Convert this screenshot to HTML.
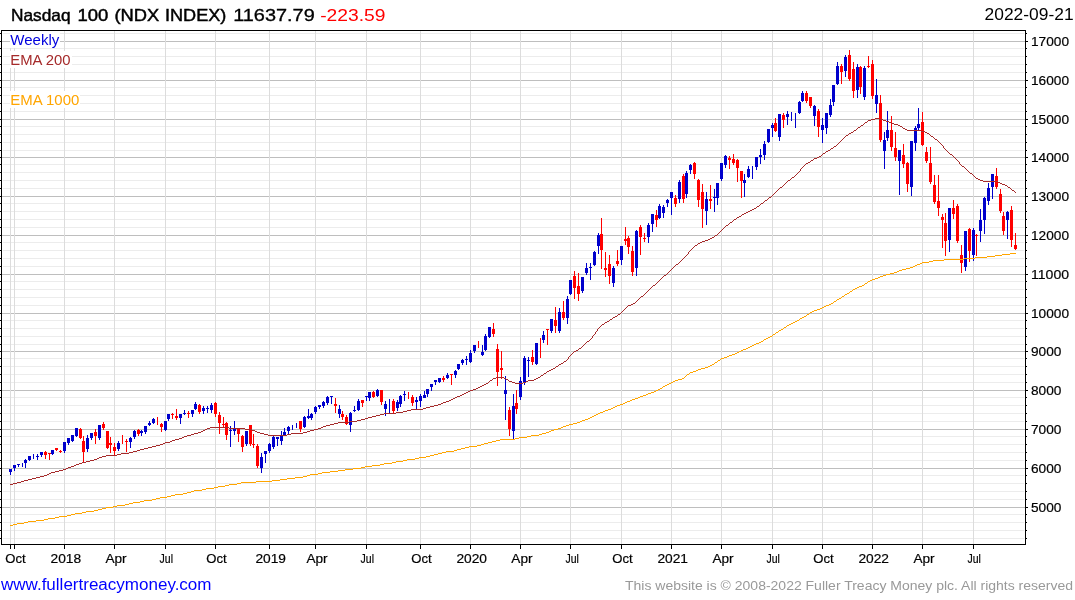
<!DOCTYPE html>
<html><head><meta charset="utf-8"><title>Nasdaq 100 (NDX INDEX)</title>
<style>
html,body{margin:0;padding:0;background:#fff;}
body{width:1075px;height:600px;overflow:hidden;}
svg{display:block;will-change:transform;}
text{font-family:"Liberation Sans",sans-serif;}
.t{opacity:0.999;}
</style></head><body>
<svg width="1075" height="600" viewBox="0 0 1075 600">
<rect x="0" y="0" width="1075" height="600" fill="#ffffff"/>
<g shape-rendering="crispEdges">
<rect x="3" y="514" width="1021" height="1" fill="#ececec"/>
<rect x="3" y="522" width="1021" height="1" fill="#ececec"/>
<rect x="3" y="530" width="1021" height="1" fill="#ececec"/>
<rect x="3" y="538" width="1021" height="1" fill="#ececec"/>
<rect x="3" y="475" width="1021" height="1" fill="#ececec"/>
<rect x="3" y="483" width="1021" height="1" fill="#ececec"/>
<rect x="3" y="491" width="1021" height="1" fill="#ececec"/>
<rect x="3" y="499" width="1021" height="1" fill="#ececec"/>
<rect x="3" y="436" width="1021" height="1" fill="#ececec"/>
<rect x="3" y="444" width="1021" height="1" fill="#ececec"/>
<rect x="3" y="452" width="1021" height="1" fill="#ececec"/>
<rect x="3" y="460" width="1021" height="1" fill="#ececec"/>
<rect x="3" y="397" width="1021" height="1" fill="#ececec"/>
<rect x="3" y="405" width="1021" height="1" fill="#ececec"/>
<rect x="3" y="413" width="1021" height="1" fill="#ececec"/>
<rect x="3" y="421" width="1021" height="1" fill="#ececec"/>
<rect x="3" y="358" width="1021" height="1" fill="#ececec"/>
<rect x="3" y="366" width="1021" height="1" fill="#ececec"/>
<rect x="3" y="374" width="1021" height="1" fill="#ececec"/>
<rect x="3" y="382" width="1021" height="1" fill="#ececec"/>
<rect x="3" y="320" width="1021" height="1" fill="#ececec"/>
<rect x="3" y="328" width="1021" height="1" fill="#ececec"/>
<rect x="3" y="336" width="1021" height="1" fill="#ececec"/>
<rect x="3" y="344" width="1021" height="1" fill="#ececec"/>
<rect x="3" y="281" width="1021" height="1" fill="#ececec"/>
<rect x="3" y="289" width="1021" height="1" fill="#ececec"/>
<rect x="3" y="297" width="1021" height="1" fill="#ececec"/>
<rect x="3" y="305" width="1021" height="1" fill="#ececec"/>
<rect x="3" y="242" width="1021" height="1" fill="#ececec"/>
<rect x="3" y="250" width="1021" height="1" fill="#ececec"/>
<rect x="3" y="258" width="1021" height="1" fill="#ececec"/>
<rect x="3" y="266" width="1021" height="1" fill="#ececec"/>
<rect x="3" y="203" width="1021" height="1" fill="#ececec"/>
<rect x="3" y="211" width="1021" height="1" fill="#ececec"/>
<rect x="3" y="219" width="1021" height="1" fill="#ececec"/>
<rect x="3" y="227" width="1021" height="1" fill="#ececec"/>
<rect x="3" y="164" width="1021" height="1" fill="#ececec"/>
<rect x="3" y="172" width="1021" height="1" fill="#ececec"/>
<rect x="3" y="180" width="1021" height="1" fill="#ececec"/>
<rect x="3" y="188" width="1021" height="1" fill="#ececec"/>
<rect x="3" y="126" width="1021" height="1" fill="#ececec"/>
<rect x="3" y="134" width="1021" height="1" fill="#ececec"/>
<rect x="3" y="142" width="1021" height="1" fill="#ececec"/>
<rect x="3" y="150" width="1021" height="1" fill="#ececec"/>
<rect x="3" y="87" width="1021" height="1" fill="#ececec"/>
<rect x="3" y="95" width="1021" height="1" fill="#ececec"/>
<rect x="3" y="103" width="1021" height="1" fill="#ececec"/>
<rect x="3" y="111" width="1021" height="1" fill="#ececec"/>
<rect x="3" y="48" width="1021" height="1" fill="#ececec"/>
<rect x="3" y="56" width="1021" height="1" fill="#ececec"/>
<rect x="3" y="64" width="1021" height="1" fill="#ececec"/>
<rect x="3" y="72" width="1021" height="1" fill="#ececec"/>
<rect x="3" y="33" width="1021" height="1" fill="#ececec"/>
<rect x="2" y="507" width="1023" height="1" fill="#bebebe"/>
<rect x="2" y="468" width="1023" height="1" fill="#bebebe"/>
<rect x="2" y="429" width="1023" height="1" fill="#bebebe"/>
<rect x="2" y="390" width="1023" height="1" fill="#bebebe"/>
<rect x="2" y="351" width="1023" height="1" fill="#bebebe"/>
<rect x="2" y="313" width="1023" height="1" fill="#bebebe"/>
<rect x="2" y="274" width="1023" height="1" fill="#bebebe"/>
<rect x="2" y="235" width="1023" height="1" fill="#bebebe"/>
<rect x="2" y="196" width="1023" height="1" fill="#bebebe"/>
<rect x="2" y="157" width="1023" height="1" fill="#bebebe"/>
<rect x="2" y="119" width="1023" height="1" fill="#bebebe"/>
<rect x="2" y="80" width="1023" height="1" fill="#bebebe"/>
<rect x="2" y="41" width="1023" height="1" fill="#bebebe"/>
<rect x="10" y="31" width="1" height="513" fill="#dcdcdc"/>
<rect x="14" y="31" width="1" height="513" fill="#dcdcdc"/>
<rect x="64" y="31" width="1" height="513" fill="#dcdcdc"/>
<rect x="114" y="31" width="1" height="513" fill="#dcdcdc"/>
<rect x="165" y="31" width="1" height="513" fill="#dcdcdc"/>
<rect x="215" y="31" width="1" height="513" fill="#dcdcdc"/>
<rect x="269" y="31" width="1" height="513" fill="#dcdcdc"/>
<rect x="315" y="31" width="1" height="513" fill="#dcdcdc"/>
<rect x="366" y="31" width="1" height="513" fill="#dcdcdc"/>
<rect x="420" y="31" width="1" height="513" fill="#dcdcdc"/>
<rect x="470" y="31" width="1" height="513" fill="#dcdcdc"/>
<rect x="520" y="31" width="1" height="513" fill="#dcdcdc"/>
<rect x="570" y="31" width="1" height="513" fill="#dcdcdc"/>
<rect x="621" y="31" width="1" height="513" fill="#dcdcdc"/>
<rect x="671" y="31" width="1" height="513" fill="#dcdcdc"/>
<rect x="721" y="31" width="1" height="513" fill="#dcdcdc"/>
<rect x="772" y="31" width="1" height="513" fill="#dcdcdc"/>
<rect x="822" y="31" width="1" height="513" fill="#dcdcdc"/>
<rect x="872" y="31" width="1" height="513" fill="#dcdcdc"/>
<rect x="922" y="31" width="1" height="513" fill="#dcdcdc"/>
<rect x="973" y="31" width="1" height="513" fill="#dcdcdc"/>
</g>
<g shape-rendering="crispEdges" fill="#ffffff">
<rect x="10" y="31" width="50" height="17"/>
<rect x="10" y="51" width="62" height="17"/>
<rect x="10" y="91" width="70" height="17"/>
</g>
<g shape-rendering="crispEdges">
<g fill="#0000cc"><rect x="10" y="469" width="1" height="6"/><rect x="9" y="469" width="3" height="3"/></g>
<g fill="#0000cc"><rect x="14" y="465" width="1" height="6"/><rect x="13" y="465" width="3" height="3"/></g>
<g fill="#0000cc"><rect x="18" y="464" width="1" height="3"/><rect x="17" y="464" width="3" height="1"/></g>
<g fill="#0000cc"><rect x="22" y="463" width="1" height="4"/></g>
<g fill="#0000cc"><rect x="25" y="459" width="1" height="9"/><rect x="24" y="459.5" width="3" height="3.5"/></g>
<g fill="#0000cc"><rect x="29" y="456" width="1" height="5"/><rect x="28" y="456" width="3" height="4"/></g>
<g fill="#0000cc"><rect x="33" y="454" width="1" height="5"/></g>
<g fill="#0000cc"><rect x="37" y="454" width="1" height="6"/><rect x="36" y="456" width="3" height="1"/></g>
<g fill="#0000cc"><rect x="41" y="452" width="1" height="5"/><rect x="40" y="452" width="3" height="3"/></g>
<g fill="#ff0000"><rect x="45" y="451" width="1" height="8"/><rect x="44" y="452" width="3" height="3"/></g>
<g fill="#ff0000"><rect x="49" y="453" width="1" height="7"/><rect x="48" y="453" width="3" height="1"/></g>
<g fill="#0000cc"><rect x="52" y="450" width="1" height="5"/><rect x="51" y="450" width="3" height="4"/></g>
<g fill="#ff0000"><rect x="56" y="448" width="1" height="3"/><rect x="55" y="448" width="3" height="2"/></g>
<g fill="#ff0000"><rect x="60" y="450" width="1" height="3"/><rect x="59" y="451" width="3" height="1"/></g>
<g fill="#0000cc"><rect x="64" y="442" width="1" height="11"/><rect x="63" y="442" width="3" height="9"/></g>
<g fill="#0000cc"><rect x="68" y="438" width="1" height="7"/><rect x="67" y="438" width="3" height="5"/></g>
<g fill="#0000cc"><rect x="72" y="435" width="1" height="7"/><rect x="71" y="435" width="3" height="6"/></g>
<g fill="#0000cc"><rect x="76" y="428" width="1" height="9"/><rect x="75" y="428" width="3" height="8"/></g>
<g fill="#ff0000"><rect x="80" y="428" width="1" height="11"/><rect x="79" y="429" width="3" height="8.5"/></g>
<g fill="#ff0000"><rect x="83" y="436" width="1" height="26.5"/><rect x="82" y="441" width="3" height="10.5"/></g>
<g fill="#0000cc"><rect x="87" y="435" width="1" height="17"/><rect x="86" y="438" width="3" height="11"/></g>
<g fill="#0000cc"><rect x="91" y="433" width="1" height="7"/><rect x="90" y="433" width="3" height="4.5"/></g>
<g fill="#ff0000"><rect x="95" y="429" width="1" height="15"/><rect x="94" y="432" width="3" height="3.5"/></g>
<g fill="#0000cc"><rect x="99" y="425" width="1" height="15"/><rect x="98" y="425" width="3" height="12.5"/></g>
<g fill="#ff0000"><rect x="103" y="422" width="1" height="8"/><rect x="102" y="424" width="3" height="4"/></g>
<g fill="#ff0000"><rect x="107" y="431" width="1" height="18"/><rect x="106" y="431" width="3" height="17"/></g>
<g fill="#ff0000"><rect x="110" y="437" width="1" height="16"/><rect x="109" y="443" width="3" height="2"/></g>
<g fill="#ff0000"><rect x="114" y="443" width="1" height="13"/><rect x="113" y="447" width="3" height="4"/></g>
<g fill="#0000cc"><rect x="118" y="441" width="1" height="10"/><rect x="117" y="443" width="3" height="6"/></g>
<g fill="#ff0000"><rect x="122" y="435" width="1" height="9"/></g>
<g fill="#ff0000"><rect x="126" y="439" width="1" height="13"/><rect x="125" y="441" width="3" height="1"/></g>
<g fill="#0000cc"><rect x="130" y="437" width="1" height="11"/><rect x="129" y="438" width="3" height="4"/></g>
<g fill="#0000cc"><rect x="134" y="430" width="1" height="9"/><rect x="133" y="431" width="3" height="6"/></g>
<g fill="#ff0000"><rect x="138" y="429" width="1" height="7"/><rect x="137" y="430" width="3" height="4"/></g>
<g fill="#0000cc"><rect x="141" y="430" width="1" height="6"/><rect x="140" y="431" width="3" height="2"/></g>
<g fill="#0000cc"><rect x="145" y="426" width="1" height="8"/><rect x="144" y="426" width="3" height="6"/></g>
<g fill="#0000cc"><rect x="149" y="421" width="1" height="5"/><rect x="148" y="423" width="3" height="2"/></g>
<g fill="#0000cc"><rect x="153" y="418" width="1" height="6"/><rect x="152" y="419" width="3" height="4"/></g>
<g fill="#ff0000"><rect x="157" y="417" width="1" height="8"/></g>
<g fill="#ff0000"><rect x="161" y="423" width="1" height="9"/><rect x="160" y="424" width="3" height="3"/></g>
<g fill="#0000cc"><rect x="165" y="421" width="1" height="10"/><rect x="164" y="421" width="3" height="9"/></g>
<g fill="#0000cc"><rect x="168" y="414" width="1" height="7"/><rect x="167" y="414" width="3" height="5"/></g>
<g fill="#ff0000"><rect x="172" y="413" width="1" height="6"/><rect x="171" y="414" width="3" height="1"/></g>
<g fill="#ff0000"><rect x="176" y="409" width="1" height="11"/><rect x="175" y="416" width="3" height="2"/></g>
<g fill="#0000cc"><rect x="180" y="414" width="1" height="10"/><rect x="179" y="414" width="3" height="4"/></g>
<g fill="#0000cc"><rect x="184" y="410" width="1" height="5"/><rect x="183" y="413" width="3" height="1"/></g>
<g fill="#ff0000"><rect x="188" y="411" width="1" height="7"/><rect x="187" y="413" width="3" height="1"/></g>
<g fill="#0000cc"><rect x="192" y="410" width="1" height="7"/><rect x="191" y="410" width="3" height="4"/></g>
<g fill="#0000cc"><rect x="195" y="402" width="1" height="8"/><rect x="194" y="404" width="3" height="5"/></g>
<g fill="#ff0000"><rect x="199" y="404" width="1" height="10"/><rect x="198" y="405" width="3" height="7"/></g>
<g fill="#0000cc"><rect x="203" y="406" width="1" height="8"/><rect x="202" y="408" width="3" height="3"/></g>
<g fill="#0000cc"><rect x="207" y="406" width="1" height="7"/><rect x="206" y="408" width="3" height="1"/></g>
<g fill="#0000cc"><rect x="211" y="403" width="1" height="10"/><rect x="210" y="405" width="3" height="5"/></g>
<g fill="#ff0000"><rect x="215" y="402" width="1" height="15"/><rect x="214" y="403" width="3" height="11"/></g>
<g fill="#ff0000"><rect x="219" y="412" width="1" height="22"/><rect x="218" y="415" width="3" height="8"/></g>
<g fill="#ff0000"><rect x="223" y="417" width="1" height="10"/><rect x="222" y="424" width="3" height="1"/></g>
<g fill="#ff0000"><rect x="226" y="422" width="1" height="18"/><rect x="225" y="423" width="3" height="12"/></g>
<g fill="#0000cc"><rect x="230" y="426" width="1" height="21"/><rect x="229" y="429.5" width="3" height="1"/></g>
<g fill="#0000cc"><rect x="234" y="421" width="1" height="14"/><rect x="233" y="429" width="3" height="2"/></g>
<g fill="#ff0000"><rect x="238" y="429" width="1" height="13"/><rect x="237" y="429" width="3" height="5"/></g>
<g fill="#ff0000"><rect x="242" y="435" width="1" height="17"/><rect x="241" y="436" width="3" height="11"/></g>
<g fill="#0000cc"><rect x="246" y="431" width="1" height="15"/><rect x="245" y="431" width="3" height="13"/></g>
<g fill="#ff0000"><rect x="250" y="425" width="1" height="21"/><rect x="249" y="425" width="3" height="19"/></g>
<g fill="#ff0000"><rect x="253" y="434" width="1" height="14"/><rect x="252" y="444" width="3" height="1"/></g>
<g fill="#ff0000"><rect x="257" y="444" width="1" height="24"/><rect x="256" y="446" width="3" height="20"/></g>
<g fill="#0000cc"><rect x="261" y="453" width="1" height="20"/><rect x="260" y="457" width="3" height="11"/></g>
<g fill="#0000cc"><rect x="265" y="451" width="1" height="12"/><rect x="264" y="451" width="3" height="3"/></g>
<g fill="#0000cc"><rect x="269" y="443" width="1" height="10"/><rect x="268" y="444" width="3" height="7"/></g>
<g fill="#0000cc"><rect x="273" y="436" width="1" height="13"/><rect x="272" y="437" width="3" height="10"/></g>
<g fill="#0000cc"><rect x="277" y="437" width="1" height="9"/><rect x="276" y="437" width="3" height="2"/></g>
<g fill="#0000cc"><rect x="281" y="431" width="1" height="14"/><rect x="280" y="435" width="3" height="6"/></g>
<g fill="#0000cc"><rect x="284" y="428" width="1" height="7"/><rect x="283" y="432" width="3" height="2.5"/></g>
<g fill="#0000cc"><rect x="288" y="426" width="1" height="8"/><rect x="287" y="427" width="3" height="4"/></g>
<g fill="#0000cc"><rect x="292" y="425" width="1" height="5"/></g>
<g fill="#0000cc"><rect x="296" y="423" width="1" height="5"/></g>
<g fill="#ff0000"><rect x="300" y="421" width="1" height="11"/><rect x="299" y="421" width="3" height="8"/></g>
<g fill="#0000cc"><rect x="304" y="416" width="1" height="12"/><rect x="303" y="417" width="3" height="10"/></g>
<g fill="#0000cc"><rect x="308" y="409" width="1" height="10"/><rect x="307" y="416" width="3" height="1.5"/></g>
<g fill="#0000cc"><rect x="311" y="413" width="1" height="7"/><rect x="310" y="414" width="3" height="3.5"/></g>
<g fill="#0000cc"><rect x="315" y="406" width="1" height="8"/><rect x="314" y="407" width="3" height="5"/></g>
<g fill="#0000cc"><rect x="319" y="405" width="1" height="4"/><rect x="318" y="405" width="3" height="2"/></g>
<g fill="#0000cc"><rect x="323" y="401" width="1" height="7"/><rect x="322" y="402" width="3" height="3.5"/></g>
<g fill="#0000cc"><rect x="327" y="396" width="1" height="9"/><rect x="326" y="397" width="3" height="6"/></g>
<g fill="#0000cc"><rect x="331" y="396" width="1" height="8"/><rect x="330" y="396" width="3" height="1"/></g>
<g fill="#ff0000"><rect x="335" y="398" width="1" height="15"/><rect x="334" y="403.5" width="3" height="2.5"/></g>
<g fill="#0000cc"><rect x="339" y="405" width="1" height="13"/><rect x="338" y="409" width="3" height="5"/></g>
<g fill="#ff0000"><rect x="342" y="411" width="1" height="9"/><rect x="341" y="414" width="3" height="3"/></g>
<g fill="#ff0000"><rect x="346" y="415" width="1" height="10"/><rect x="345" y="417" width="3" height="7"/></g>
<g fill="#0000cc"><rect x="350" y="412" width="1" height="20"/><rect x="349" y="413" width="3" height="12"/></g>
<g fill="#0000cc"><rect x="354" y="406" width="1" height="6"/><rect x="353" y="410" width="3" height="1"/></g>
<g fill="#0000cc"><rect x="358" y="399" width="1" height="12"/><rect x="357" y="401" width="3" height="9"/></g>
<g fill="#ff0000"><rect x="362" y="400" width="1" height="7"/><rect x="361" y="400" width="3" height="3"/></g>
<g fill="#0000cc"><rect x="366" y="396" width="1" height="5"/><rect x="365" y="396" width="3" height="1"/></g>
<g fill="#0000cc"><rect x="369" y="392" width="1" height="9"/><rect x="368" y="392" width="3" height="6"/></g>
<g fill="#ff0000"><rect x="373" y="391" width="1" height="7"/><rect x="372" y="392" width="3" height="5"/></g>
<g fill="#0000cc"><rect x="377" y="389" width="1" height="8"/><rect x="376" y="390" width="3" height="6"/></g>
<g fill="#ff0000"><rect x="381" y="390" width="1" height="15"/><rect x="380" y="390" width="3" height="12"/></g>
<g fill="#0000cc"><rect x="385" y="401" width="1" height="15"/><rect x="384" y="404" width="3" height="5"/></g>
<g fill="#0000cc"><rect x="389" y="399" width="1" height="14"/></g>
<g fill="#ff0000"><rect x="393" y="399" width="1" height="14"/><rect x="392" y="401" width="3" height="10"/></g>
<g fill="#0000cc"><rect x="397" y="400" width="1" height="11"/><rect x="396" y="402" width="3" height="6"/></g>
<g fill="#0000cc"><rect x="400" y="395" width="1" height="12"/><rect x="399" y="396" width="3" height="8"/></g>
<g fill="#0000cc"><rect x="404" y="391" width="1" height="10"/><rect x="403" y="394" width="3" height="1"/></g>
<g fill="#ff0000"><rect x="408" y="392" width="1" height="7"/></g>
<g fill="#ff0000"><rect x="412" y="395" width="1" height="11"/><rect x="411" y="397" width="3" height="6"/></g>
<g fill="#0000cc"><rect x="416" y="397" width="1" height="12"/><rect x="415" y="400" width="3" height="2"/></g>
<g fill="#0000cc"><rect x="420" y="394" width="1" height="13"/><rect x="419" y="396" width="3" height="5"/></g>
<g fill="#0000cc"><rect x="424" y="391" width="1" height="7"/><rect x="423" y="395" width="3" height="2.5"/></g>
<g fill="#0000cc"><rect x="427" y="389" width="1" height="8"/><rect x="426" y="389" width="3" height="5"/></g>
<g fill="#0000cc"><rect x="431" y="384" width="1" height="7"/><rect x="430" y="384" width="3" height="3"/></g>
<g fill="#0000cc"><rect x="435" y="380" width="1" height="5"/><rect x="434" y="380" width="3" height="2"/></g>
<g fill="#0000cc"><rect x="439" y="378" width="1" height="5"/><rect x="438" y="378" width="3" height="4"/></g>
<g fill="#ff0000"><rect x="443" y="376" width="1" height="6"/><rect x="442" y="378" width="3" height="2"/></g>
<g fill="#0000cc"><rect x="447" y="373" width="1" height="6"/><rect x="446" y="375" width="3" height="3"/></g>
<g fill="#ff0000"><rect x="451" y="374" width="1" height="11"/><rect x="450" y="374" width="3" height="1"/></g>
<g fill="#0000cc"><rect x="455" y="370" width="1" height="8"/><rect x="454" y="371" width="3" height="4"/></g>
<g fill="#0000cc"><rect x="458" y="364" width="1" height="6"/><rect x="457" y="364" width="3" height="5"/></g>
<g fill="#0000cc"><rect x="462" y="359" width="1" height="6"/><rect x="461" y="360" width="3" height="3"/></g>
<g fill="#0000cc"><rect x="466" y="356" width="1" height="9"/><rect x="465" y="359" width="3" height="1"/></g>
<g fill="#0000cc"><rect x="470" y="350" width="1" height="13"/><rect x="469" y="353" width="3" height="9"/></g>
<g fill="#0000cc"><rect x="474" y="345" width="1" height="8"/><rect x="473" y="345" width="3" height="6"/></g>
<g fill="#ff0000"><rect x="478" y="341" width="1" height="7"/></g>
<g fill="#0000cc"><rect x="482" y="345" width="1" height="11"/><rect x="481" y="352" width="3" height="3"/></g>
<g fill="#0000cc"><rect x="485" y="334" width="1" height="17"/><rect x="484" y="336" width="3" height="14"/></g>
<g fill="#0000cc"><rect x="489" y="327" width="1" height="11"/><rect x="488" y="327" width="3" height="10"/></g>
<g fill="#ff0000"><rect x="493" y="323" width="1" height="14"/><rect x="492" y="329" width="3" height="5"/></g>
<g fill="#ff0000"><rect x="497" y="344" width="1" height="42"/><rect x="496" y="349" width="3" height="23"/></g>
<g fill="#ff0000"><rect x="501" y="351" width="1" height="28"/><rect x="500" y="368" width="3" height="2"/></g>
<g fill="#0000cc"><rect x="505" y="376" width="1" height="44"/><rect x="504" y="390" width="3" height="4"/></g>
<g fill="#ff0000"><rect x="509" y="407" width="1" height="29"/><rect x="508" y="410" width="3" height="19"/></g>
<g fill="#0000cc"><rect x="513" y="394" width="1" height="45"/><rect x="512" y="406" width="3" height="25"/></g>
<g fill="#ff0000"><rect x="516" y="390" width="1" height="24"/><rect x="515" y="403" width="3" height="6"/></g>
<g fill="#0000cc"><rect x="520" y="377" width="1" height="23"/><rect x="519" y="381" width="3" height="16"/></g>
<g fill="#0000cc"><rect x="524" y="356" width="1" height="29"/><rect x="523" y="358" width="3" height="24"/></g>
<g fill="#0000cc"><rect x="528" y="357" width="1" height="20"/><rect x="527" y="360" width="3" height="1"/></g>
<g fill="#ff0000"><rect x="532" y="350" width="1" height="15"/><rect x="531" y="357" width="3" height="5"/></g>
<g fill="#0000cc"><rect x="536" y="343" width="1" height="22"/><rect x="535" y="343" width="3" height="21"/></g>
<g fill="#ff0000"><rect x="540" y="338" width="1" height="20"/></g>
<g fill="#0000cc"><rect x="543" y="331" width="1" height="12"/><rect x="542" y="335" width="3" height="5"/></g>
<g fill="#ff0000"><rect x="547" y="329" width="1" height="16"/><rect x="546" y="329" width="3" height="1"/></g>
<g fill="#0000cc"><rect x="551" y="319" width="1" height="14"/><rect x="550" y="319" width="3" height="12"/></g>
<g fill="#ff0000"><rect x="555" y="307" width="1" height="26"/><rect x="554" y="320" width="3" height="6"/></g>
<g fill="#0000cc"><rect x="559" y="308" width="1" height="25"/><rect x="558" y="312" width="3" height="19"/></g>
<g fill="#ff0000"><rect x="563" y="301" width="1" height="19"/><rect x="562" y="312" width="3" height="6"/></g>
<g fill="#0000cc"><rect x="567" y="296" width="1" height="28"/><rect x="566" y="299" width="3" height="19"/></g>
<g fill="#0000cc"><rect x="570" y="280" width="1" height="15"/><rect x="569" y="280" width="3" height="14"/></g>
<g fill="#ff0000"><rect x="574" y="271" width="1" height="28"/><rect x="573" y="276" width="3" height="12"/></g>
<g fill="#ff0000"><rect x="578" y="273" width="1" height="28"/><rect x="577" y="286" width="3" height="8"/></g>
<g fill="#0000cc"><rect x="582" y="277" width="1" height="16"/><rect x="581" y="277" width="3" height="14"/></g>
<g fill="#0000cc"><rect x="586" y="263" width="1" height="12"/><rect x="585" y="268" width="3" height="5"/></g>
<g fill="#0000cc"><rect x="590" y="263" width="1" height="17"/><rect x="589" y="267" width="3" height="1"/></g>
<g fill="#0000cc"><rect x="594" y="251" width="1" height="15"/><rect x="593" y="252" width="3" height="13"/></g>
<g fill="#0000cc"><rect x="598" y="233" width="1" height="21"/><rect x="597" y="235" width="3" height="11"/></g>
<g fill="#ff0000"><rect x="601" y="218" width="1" height="51"/><rect x="600" y="234" width="3" height="16"/></g>
<g fill="#ff0000"><rect x="605" y="252" width="1" height="25"/><rect x="604" y="268" width="3" height="2"/></g>
<g fill="#ff0000"><rect x="609" y="255" width="1" height="29"/><rect x="608" y="264" width="3" height="12"/></g>
<g fill="#0000cc"><rect x="613" y="266" width="1" height="21"/><rect x="612" y="268" width="3" height="15"/></g>
<g fill="#ff0000"><rect x="617" y="250" width="1" height="16"/><rect x="616" y="261" width="3" height="3"/></g>
<g fill="#0000cc"><rect x="621" y="246" width="1" height="19"/><rect x="620" y="246" width="3" height="14"/></g>
<g fill="#ff0000"><rect x="625" y="227" width="1" height="18"/><rect x="624" y="239" width="3" height="2"/></g>
<g fill="#ff0000"><rect x="628" y="236" width="1" height="18"/><rect x="627" y="238" width="3" height="9"/></g>
<g fill="#ff0000"><rect x="632" y="246" width="1" height="30"/><rect x="631" y="251" width="3" height="21"/></g>
<g fill="#0000cc"><rect x="636" y="230" width="1" height="46"/><rect x="635" y="231" width="3" height="37"/></g>
<g fill="#ff0000"><rect x="640" y="225" width="1" height="30"/><rect x="639" y="227" width="3" height="10"/></g>
<g fill="#ff0000"><rect x="644" y="233" width="1" height="9"/><rect x="643" y="238" width="3" height="1"/></g>
<g fill="#0000cc"><rect x="648" y="223" width="1" height="20"/><rect x="647" y="225" width="3" height="12"/></g>
<g fill="#0000cc"><rect x="652" y="214" width="1" height="18"/><rect x="651" y="214" width="3" height="10"/></g>
<g fill="#ff0000"><rect x="656" y="210" width="1" height="17"/><rect x="655" y="215" width="3" height="5"/></g>
<g fill="#0000cc"><rect x="659" y="204" width="1" height="15"/><rect x="658" y="206" width="3" height="12"/></g>
<g fill="#0000cc"><rect x="663" y="205" width="1" height="13"/><rect x="662" y="207" width="3" height="6"/></g>
<g fill="#0000cc"><rect x="667" y="199" width="1" height="8"/><rect x="666" y="200" width="3" height="3"/></g>
<g fill="#0000cc"><rect x="671" y="192" width="1" height="23"/><rect x="670" y="192" width="3" height="6"/></g>
<g fill="#ff0000"><rect x="675" y="195" width="1" height="12"/><rect x="674" y="198" width="3" height="6"/></g>
<g fill="#0000cc"><rect x="679" y="180" width="1" height="23"/><rect x="678" y="182" width="3" height="17"/></g>
<g fill="#ff0000"><rect x="683" y="174" width="1" height="29"/><rect x="682" y="176" width="3" height="23"/></g>
<g fill="#0000cc"><rect x="686" y="171" width="1" height="27"/><rect x="685" y="173" width="3" height="21"/></g>
<g fill="#0000cc"><rect x="690" y="164" width="1" height="10"/><rect x="689" y="165" width="3" height="5"/></g>
<g fill="#ff0000"><rect x="694" y="162" width="1" height="17"/><rect x="693" y="163" width="3" height="11"/></g>
<g fill="#ff0000"><rect x="698" y="179" width="1" height="28"/><rect x="697" y="180" width="3" height="20"/></g>
<g fill="#ff0000"><rect x="702" y="184" width="1" height="44"/><rect x="701" y="192" width="3" height="17"/></g>
<g fill="#0000cc"><rect x="706" y="192" width="1" height="33"/><rect x="705" y="199" width="3" height="12"/></g>
<g fill="#ff0000"><rect x="710" y="185" width="1" height="24"/><rect x="709" y="199" width="3" height="2"/></g>
<g fill="#0000cc"><rect x="714" y="189" width="1" height="23"/><rect x="713" y="197" width="3" height="1"/></g>
<g fill="#0000cc"><rect x="717" y="183" width="1" height="22"/><rect x="716" y="183" width="3" height="15"/></g>
<g fill="#0000cc"><rect x="721" y="163" width="1" height="18"/><rect x="720" y="163" width="3" height="16"/></g>
<g fill="#0000cc"><rect x="725" y="155" width="1" height="13"/><rect x="724" y="156" width="3" height="9"/></g>
<g fill="#ff0000"><rect x="729" y="156" width="1" height="13"/><rect x="728" y="158" width="3" height="2"/></g>
<g fill="#ff0000"><rect x="733" y="154" width="1" height="11"/><rect x="732" y="159" width="3" height="4"/></g>
<g fill="#ff0000"><rect x="737" y="159" width="1" height="23"/><rect x="736" y="160" width="3" height="8"/></g>
<g fill="#ff0000"><rect x="741" y="171" width="1" height="27"/><rect x="740" y="171" width="3" height="10"/></g>
<g fill="#0000cc"><rect x="744" y="174" width="1" height="23"/><rect x="743" y="180" width="3" height="3"/></g>
<g fill="#0000cc"><rect x="748" y="166" width="1" height="12"/><rect x="747" y="169" width="3" height="8"/></g>
<g fill="#0000cc"><rect x="752" y="166" width="1" height="13"/></g>
<g fill="#0000cc"><rect x="756" y="157" width="1" height="13"/><rect x="755" y="157" width="3" height="10"/></g>
<g fill="#0000cc"><rect x="760" y="149" width="1" height="15"/><rect x="759" y="155" width="3" height="2"/></g>
<g fill="#0000cc"><rect x="764" y="141" width="1" height="19"/><rect x="763" y="144" width="3" height="11"/></g>
<g fill="#0000cc"><rect x="768" y="129" width="1" height="14"/><rect x="767" y="129" width="3" height="13"/></g>
<g fill="#0000cc"><rect x="772" y="123" width="1" height="14"/><rect x="771" y="125" width="3" height="3"/></g>
<g fill="#ff0000"><rect x="775" y="118" width="1" height="14"/><rect x="774" y="123" width="3" height="8"/></g>
<g fill="#0000cc"><rect x="779" y="114" width="1" height="27"/><rect x="778" y="114" width="3" height="23"/></g>
<g fill="#ff0000"><rect x="783" y="113" width="1" height="15"/><rect x="782" y="115" width="3" height="5"/></g>
<g fill="#0000cc"><rect x="787" y="111" width="1" height="14"/><rect x="786" y="114" width="3" height="3"/></g>
<g fill="#0000cc"><rect x="791" y="112" width="1" height="9"/></g>
<g fill="#0000cc"><rect x="795" y="113" width="1" height="15"/></g>
<g fill="#0000cc"><rect x="799" y="101" width="1" height="13"/><rect x="798" y="102" width="3" height="11"/></g>
<g fill="#0000cc"><rect x="802" y="91" width="1" height="11"/><rect x="801" y="93" width="3" height="8"/></g>
<g fill="#ff0000"><rect x="806" y="91" width="1" height="12"/><rect x="805" y="93" width="3" height="8"/></g>
<g fill="#ff0000"><rect x="810" y="97" width="1" height="11"/><rect x="809" y="97" width="3" height="9"/></g>
<g fill="#0000cc"><rect x="814" y="105" width="1" height="21"/><rect x="813" y="106" width="3" height="10"/></g>
<g fill="#ff0000"><rect x="818" y="109" width="1" height="28"/><rect x="817" y="111" width="3" height="16"/></g>
<g fill="#0000cc"><rect x="822" y="118" width="1" height="25"/><rect x="821" y="125" width="3" height="5"/></g>
<g fill="#0000cc"><rect x="826" y="113" width="1" height="21"/><rect x="825" y="113" width="3" height="15"/></g>
<g fill="#0000cc"><rect x="830" y="99" width="1" height="18"/><rect x="829" y="105" width="3" height="10"/></g>
<g fill="#0000cc"><rect x="833" y="85" width="1" height="21"/><rect x="832" y="85" width="3" height="17"/></g>
<g fill="#0000cc"><rect x="837" y="62" width="1" height="23"/><rect x="836" y="66" width="3" height="18"/></g>
<g fill="#ff0000"><rect x="841" y="64" width="1" height="20"/><rect x="840" y="66" width="3" height="6"/></g>
<g fill="#0000cc"><rect x="845" y="55" width="1" height="22"/><rect x="844" y="57" width="3" height="14"/></g>
<g fill="#ff0000"><rect x="849" y="50" width="1" height="31"/><rect x="848" y="55" width="3" height="24"/></g>
<g fill="#ff0000"><rect x="853" y="62" width="1" height="36"/><rect x="852" y="69" width="3" height="22"/></g>
<g fill="#0000cc"><rect x="857" y="64" width="1" height="34"/><rect x="856" y="67" width="3" height="23"/></g>
<g fill="#ff0000"><rect x="860" y="66" width="1" height="28"/><rect x="859" y="67" width="3" height="20"/></g>
<g fill="#0000cc"><rect x="864" y="66" width="1" height="34"/><rect x="863" y="68" width="3" height="29"/></g>
<g fill="#ff0000"><rect x="868" y="56" width="1" height="12"/><rect x="867" y="66" width="3" height="1"/></g>
<g fill="#ff0000"><rect x="872" y="60" width="1" height="39"/><rect x="871" y="64" width="3" height="32"/></g>
<g fill="#0000cc"><rect x="876" y="79" width="1" height="34"/><rect x="875" y="95" width="3" height="9"/></g>
<g fill="#ff0000"><rect x="880" y="95" width="1" height="47"/><rect x="879" y="103" width="3" height="37"/></g>
<g fill="#0000cc"><rect x="884" y="132" width="1" height="37"/><rect x="883" y="140" width="3" height="11"/></g>
<g fill="#0000cc"><rect x="887" y="111" width="1" height="30"/><rect x="886" y="130" width="3" height="8"/></g>
<g fill="#ff0000"><rect x="891" y="116" width="1" height="35"/><rect x="890" y="130" width="3" height="17"/></g>
<g fill="#ff0000"><rect x="895" y="132" width="1" height="29"/><rect x="894" y="148" width="3" height="9"/></g>
<g fill="#0000cc"><rect x="899" y="150" width="1" height="45"/><rect x="898" y="150" width="3" height="11"/></g>
<g fill="#ff0000"><rect x="903" y="144" width="1" height="24"/><rect x="902" y="155" width="3" height="9"/></g>
<g fill="#ff0000"><rect x="907" y="162" width="1" height="30"/><rect x="906" y="163" width="3" height="21"/></g>
<g fill="#0000cc"><rect x="911" y="141" width="1" height="55"/><rect x="910" y="141" width="3" height="46"/></g>
<g fill="#0000cc"><rect x="915" y="126" width="1" height="25"/><rect x="914" y="128" width="3" height="15"/></g>
<g fill="#0000cc"><rect x="918" y="108" width="1" height="22"/><rect x="917" y="124" width="3" height="4"/></g>
<g fill="#ff0000"><rect x="922" y="112" width="1" height="34"/><rect x="921" y="122" width="3" height="23"/></g>
<g fill="#ff0000"><rect x="926" y="147" width="1" height="16"/><rect x="925" y="152" width="3" height="9"/></g>
<g fill="#ff0000"><rect x="930" y="147" width="1" height="37"/><rect x="929" y="163" width="3" height="19"/></g>
<g fill="#ff0000"><rect x="934" y="175" width="1" height="29"/><rect x="933" y="185" width="3" height="17"/></g>
<g fill="#ff0000"><rect x="938" y="175" width="1" height="41"/><rect x="937" y="201" width="3" height="7"/></g>
<g fill="#ff0000"><rect x="942" y="214" width="1" height="34"/><rect x="941" y="217" width="3" height="3"/></g>
<g fill="#ff0000"><rect x="945" y="213" width="1" height="43"/><rect x="944" y="223" width="3" height="18"/></g>
<g fill="#0000cc"><rect x="949" y="208" width="1" height="44"/><rect x="948" y="208" width="3" height="32"/></g>
<g fill="#ff0000"><rect x="953" y="200" width="1" height="19"/><rect x="952" y="208" width="3" height="6"/></g>
<g fill="#ff0000"><rect x="957" y="204" width="1" height="39"/><rect x="956" y="206" width="3" height="35"/></g>
<g fill="#ff0000"><rect x="961" y="245" width="1" height="28"/><rect x="960" y="255" width="3" height="8"/></g>
<g fill="#0000cc"><rect x="965" y="231" width="1" height="40"/><rect x="964" y="231" width="3" height="36"/></g>
<g fill="#ff0000"><rect x="969" y="228" width="1" height="34"/><rect x="968" y="229" width="3" height="22"/></g>
<g fill="#0000cc"><rect x="973" y="228" width="1" height="33"/><rect x="972" y="230" width="3" height="25"/></g>
<g fill="#ff0000"><rect x="976" y="234" width="1" height="22"/><rect x="975" y="235" width="3" height="1"/></g>
<g fill="#0000cc"><rect x="980" y="209" width="1" height="33"/><rect x="979" y="220" width="3" height="11"/></g>
<g fill="#0000cc"><rect x="984" y="197" width="1" height="37"/><rect x="983" y="198" width="3" height="22"/></g>
<g fill="#0000cc"><rect x="988" y="183" width="1" height="22"/><rect x="987" y="188" width="3" height="13"/></g>
<g fill="#0000cc"><rect x="992" y="174" width="1" height="25"/><rect x="991" y="174" width="3" height="13"/></g>
<g fill="#ff0000"><rect x="996" y="168" width="1" height="21"/><rect x="995" y="176" width="3" height="11"/></g>
<g fill="#ff0000"><rect x="1000" y="189" width="1" height="24"/><rect x="999" y="194" width="3" height="17"/></g>
<g fill="#ff0000"><rect x="1003" y="212" width="1" height="23"/><rect x="1002" y="216" width="3" height="15"/></g>
<g fill="#0000cc"><rect x="1007" y="211" width="1" height="28"/><rect x="1006" y="212" width="3" height="8"/></g>
<g fill="#ff0000"><rect x="1011" y="206" width="1" height="41"/><rect x="1010" y="210" width="3" height="30"/></g>
<g fill="#ff0000"><rect x="1015" y="233" width="1" height="17"/><rect x="1014" y="245" width="3" height="4"/></g>
</g>
<path d="M10 525h1v1h-1zM11 525h1v1h-1zM12 525h1v1h-1zM13 524h1v1h-1zM14 524h1v1h-1zM15 524h1v1h-1zM16 524h1v1h-1zM17 523h1v1h-1zM18 523h1v1h-1zM19 523h1v1h-1zM20 523h1v1h-1zM21 523h1v1h-1zM22 523h1v1h-1zM23 523h1v1h-1zM24 522h1v1h-1zM25 522h1v1h-1zM26 522h1v1h-1zM27 522h1v1h-1zM28 521h1v1h-1zM29 521h1v1h-1zM30 521h1v1h-1zM31 521h1v1h-1zM32 521h1v1h-1zM33 521h1v1h-1zM34 521h1v1h-1zM35 521h1v1h-1zM36 520h1v1h-1zM37 520h1v1h-1zM38 520h1v1h-1zM39 520h1v1h-1zM40 520h1v1h-1zM41 520h1v1h-1zM42 520h1v1h-1zM43 520h1v1h-1zM44 519h1v1h-1zM45 519h1v1h-1zM46 519h1v1h-1zM47 519h1v1h-1zM48 518h1v1h-1zM49 518h1v1h-1zM50 518h1v1h-1zM51 518h1v1h-1zM52 518h1v1h-1zM53 518h1v1h-1zM54 518h1v1h-1zM55 517h1v1h-1zM56 517h1v1h-1zM57 517h1v1h-1zM58 517h1v1h-1zM59 516h1v1h-1zM60 516h1v1h-1zM61 516h1v1h-1zM62 516h1v1h-1zM63 516h1v1h-1zM64 516h1v1h-1zM65 516h1v1h-1zM66 516h1v1h-1zM67 515h1v1h-1zM68 515h1v1h-1zM69 515h1v1h-1zM70 515h1v1h-1zM71 514h1v1h-1zM72 514h1v1h-1zM73 514h1v1h-1zM74 514h1v1h-1zM75 513h1v1h-1zM76 513h1v1h-1zM77 513h1v1h-1zM78 513h1v1h-1zM79 513h1v1h-1zM80 513h1v1h-1zM81 513h1v1h-1zM82 512h1v1h-1zM83 512h1v1h-1zM84 512h1v1h-1zM85 512h1v1h-1zM86 511h1v1h-1zM87 511h1v1h-1zM88 511h1v1h-1zM89 511h1v1h-1zM90 511h1v1h-1zM91 511h1v1h-1zM92 511h1v1h-1zM93 511h1v1h-1zM94 510h1v1h-1zM95 510h1v1h-1zM96 510h1v1h-1zM97 510h1v1h-1zM98 509h1v1h-1zM99 509h1v1h-1zM100 509h1v1h-1zM101 509h1v1h-1zM102 508h1v1h-1zM103 508h1v1h-1zM104 508h1v1h-1zM105 508h1v1h-1zM106 507h1v1h-1zM107 507h1v1h-1zM108 507h1v1h-1zM109 507h1v1h-1zM110 507h1v1h-1zM111 507h1v1h-1zM112 507h1v1h-1zM113 506h1v1h-1zM114 506h1v1h-1zM115 506h1v1h-1zM116 506h1v1h-1zM117 505h1v1h-1zM118 505h1v1h-1zM119 505h1v1h-1zM120 505h1v1h-1zM121 505h1v1h-1zM122 505h1v1h-1zM123 505h1v1h-1zM124 505h1v1h-1zM125 504h1v1h-1zM126 504h1v1h-1zM127 504h1v1h-1zM128 504h1v1h-1zM129 503h1v1h-1zM130 503h1v1h-1zM131 503h1v1h-1zM132 503h1v1h-1zM133 502h1v1h-1zM134 502h1v1h-1zM135 502h1v1h-1zM136 502h1v1h-1zM137 502h1v1h-1zM138 502h1v1h-1zM139 502h1v1h-1zM140 501h1v1h-1zM141 501h1v1h-1zM142 501h1v1h-1zM143 501h1v1h-1zM144 500h1v1h-1zM145 500h1v1h-1zM146 500h1v1h-1zM147 500h1v1h-1zM148 500h1v1h-1zM149 500h1v1h-1zM150 500h1v1h-1zM151 500h1v1h-1zM152 499h1v1h-1zM153 499h1v1h-1zM154 499h1v1h-1zM155 499h1v1h-1zM156 498h1v1h-1zM157 498h1v1h-1zM158 498h1v1h-1zM159 498h1v1h-1zM160 497h1v1h-1zM161 497h1v1h-1zM162 497h1v1h-1zM163 497h1v1h-1zM164 497h1v1h-1zM165 497h1v1h-1zM166 497h1v1h-1zM167 496h1v1h-1zM168 496h1v1h-1zM169 496h1v1h-1zM170 496h1v1h-1zM171 495h1v1h-1zM172 495h1v1h-1zM173 495h1v1h-1zM174 495h1v1h-1zM175 494h1v1h-1zM176 494h1v1h-1zM177 494h1v1h-1zM178 494h1v1h-1zM179 494h1v1h-1zM180 494h1v1h-1zM181 494h1v1h-1zM182 494h1v1h-1zM183 493h1v1h-1zM184 493h1v1h-1zM185 493h1v1h-1zM186 493h1v1h-1zM187 492h1v1h-1zM188 492h1v1h-1zM189 492h1v1h-1zM190 492h1v1h-1zM191 491h1v1h-1zM192 491h1v1h-1zM193 491h1v1h-1zM194 490h1v1h-1zM195 490h1v1h-1zM196 490h1v1h-1zM197 490h1v1h-1zM198 490h1v1h-1zM199 490h1v1h-1zM200 490h1v1h-1zM201 490h1v1h-1zM202 489h1v1h-1zM203 489h1v1h-1zM204 489h1v1h-1zM205 489h1v1h-1zM206 488h1v1h-1zM207 488h1v1h-1zM208 488h1v1h-1zM209 488h1v1h-1zM210 488h1v1h-1zM211 488h1v1h-1zM212 488h1v1h-1zM213 488h1v1h-1zM214 487h1v1h-1zM215 487h1v1h-1zM216 487h1v1h-1zM217 487h1v1h-1zM218 486h1v1h-1zM219 486h1v1h-1zM220 486h1v1h-1zM221 486h1v1h-1zM222 486h1v1h-1zM223 486h1v1h-1zM224 486h1v1h-1zM225 485h1v1h-1zM226 485h1v1h-1zM227 485h1v1h-1zM228 485h1v1h-1zM229 484h1v1h-1zM230 484h1v1h-1zM231 484h1v1h-1zM232 484h1v1h-1zM233 484h1v1h-1zM234 484h1v1h-1zM235 484h1v1h-1zM236 484h1v1h-1zM237 483h1v1h-1zM238 483h1v1h-1zM239 483h1v1h-1zM240 483h1v1h-1zM241 482h1v1h-1zM242 482h1v1h-1zM243 482h1v1h-1zM244 482h1v1h-1zM245 482h1v1h-1zM246 482h1v1h-1zM247 482h1v1h-1zM248 482h1v1h-1zM249 482h1v1h-1zM250 482h1v1h-1zM251 482h1v1h-1zM252 482h1v1h-1zM253 482h1v1h-1zM254 482h1v1h-1zM255 482h1v1h-1zM256 481h1v1h-1zM257 481h1v1h-1zM258 481h1v1h-1zM259 481h1v1h-1zM260 481h1v1h-1zM261 481h1v1h-1zM262 481h1v1h-1zM263 481h1v1h-1zM264 481h1v1h-1zM265 481h1v1h-1zM266 481h1v1h-1zM267 481h1v1h-1zM268 481h1v1h-1zM269 481h1v1h-1zM270 481h1v1h-1zM271 481h1v1h-1zM272 480h1v1h-1zM273 480h1v1h-1zM274 480h1v1h-1zM275 480h1v1h-1zM276 480h1v1h-1zM277 480h1v1h-1zM278 480h1v1h-1zM279 480h1v1h-1zM280 479h1v1h-1zM281 479h1v1h-1zM282 479h1v1h-1zM283 479h1v1h-1zM284 479h1v1h-1zM285 479h1v1h-1zM286 479h1v1h-1zM287 478h1v1h-1zM288 478h1v1h-1zM289 478h1v1h-1zM290 478h1v1h-1zM291 478h1v1h-1zM292 478h1v1h-1zM293 478h1v1h-1zM294 478h1v1h-1zM295 477h1v1h-1zM296 477h1v1h-1zM297 477h1v1h-1zM298 477h1v1h-1zM299 477h1v1h-1zM300 477h1v1h-1zM301 477h1v1h-1zM302 477h1v1h-1zM303 476h1v1h-1zM304 476h1v1h-1zM305 476h1v1h-1zM306 476h1v1h-1zM307 475h1v1h-1zM308 475h1v1h-1zM309 475h1v1h-1zM310 474h1v1h-1zM311 474h1v1h-1zM312 474h1v1h-1zM313 474h1v1h-1zM314 474h1v1h-1zM315 474h1v1h-1zM316 474h1v1h-1zM317 474h1v1h-1zM318 473h1v1h-1zM319 473h1v1h-1zM320 473h1v1h-1zM321 473h1v1h-1zM322 472h1v1h-1zM323 472h1v1h-1zM324 472h1v1h-1zM325 472h1v1h-1zM326 472h1v1h-1zM327 472h1v1h-1zM328 472h1v1h-1zM329 472h1v1h-1zM330 471h1v1h-1zM331 471h1v1h-1zM332 471h1v1h-1zM333 471h1v1h-1zM334 471h1v1h-1zM335 471h1v1h-1zM336 471h1v1h-1zM337 471h1v1h-1zM338 470h1v1h-1zM339 470h1v1h-1zM340 470h1v1h-1zM341 470h1v1h-1zM342 470h1v1h-1zM343 470h1v1h-1zM344 470h1v1h-1zM345 469h1v1h-1zM346 469h1v1h-1zM347 469h1v1h-1zM348 469h1v1h-1zM349 469h1v1h-1zM350 469h1v1h-1zM351 469h1v1h-1zM352 469h1v1h-1zM353 468h1v1h-1zM354 468h1v1h-1zM355 468h1v1h-1zM356 468h1v1h-1zM357 468h1v1h-1zM358 468h1v1h-1zM359 468h1v1h-1zM360 468h1v1h-1zM361 467h1v1h-1zM362 467h1v1h-1zM363 467h1v1h-1zM364 467h1v1h-1zM365 466h1v1h-1zM366 466h1v1h-1zM367 466h1v1h-1zM368 466h1v1h-1zM369 466h1v1h-1zM370 466h1v1h-1zM371 466h1v1h-1zM372 465h1v1h-1zM373 465h1v1h-1zM374 465h1v1h-1zM375 465h1v1h-1zM376 465h1v1h-1zM377 465h1v1h-1zM378 465h1v1h-1zM379 465h1v1h-1zM380 464h1v1h-1zM381 464h1v1h-1zM382 464h1v1h-1zM383 464h1v1h-1zM384 463h1v1h-1zM385 463h1v1h-1zM386 463h1v1h-1zM387 463h1v1h-1zM388 463h1v1h-1zM389 463h1v1h-1zM390 463h1v1h-1zM391 463h1v1h-1zM392 462h1v1h-1zM393 462h1v1h-1zM394 462h1v1h-1zM395 462h1v1h-1zM396 461h1v1h-1zM397 461h1v1h-1zM398 461h1v1h-1zM399 461h1v1h-1zM400 461h1v1h-1zM401 461h1v1h-1zM402 461h1v1h-1zM403 460h1v1h-1zM404 460h1v1h-1zM405 460h1v1h-1zM406 460h1v1h-1zM407 459h1v1h-1zM408 459h1v1h-1zM409 459h1v1h-1zM410 459h1v1h-1zM411 459h1v1h-1zM412 459h1v1h-1zM413 459h1v1h-1zM414 459h1v1h-1zM415 458h1v1h-1zM416 458h1v1h-1zM417 458h1v1h-1zM418 458h1v1h-1zM419 457h1v1h-1zM420 457h1v1h-1zM421 457h1v1h-1zM422 457h1v1h-1zM423 457h1v1h-1zM424 457h1v1h-1zM425 457h1v1h-1zM426 456h1v1h-1zM427 456h1v1h-1zM428 456h1v1h-1zM429 456h1v1h-1zM430 455h1v1h-1zM431 455h1v1h-1zM432 455h1v1h-1zM433 455h1v1h-1zM434 454h1v1h-1zM435 454h1v1h-1zM436 454h1v1h-1zM437 454h1v1h-1zM438 453h1v1h-1zM439 453h1v1h-1zM440 453h1v1h-1zM441 453h1v1h-1zM442 452h1v1h-1zM443 452h1v1h-1zM444 452h1v1h-1zM445 452h1v1h-1zM446 451h1v1h-1zM447 451h1v1h-1zM448 451h1v1h-1zM449 451h1v1h-1zM450 451h1v1h-1zM451 451h1v1h-1zM452 451h1v1h-1zM453 451h1v1h-1zM454 450h1v1h-1zM455 450h1v1h-1zM456 450h1v1h-1zM457 449h1v1h-1zM458 449h1v1h-1zM459 449h1v1h-1zM460 449h1v1h-1zM461 448h1v1h-1zM462 448h1v1h-1zM463 448h1v1h-1zM464 448h1v1h-1zM465 447h1v1h-1zM466 447h1v1h-1zM467 447h1v1h-1zM468 447h1v1h-1zM469 446h1v1h-1zM470 446h1v1h-1zM471 446h1v1h-1zM472 446h1v1h-1zM473 446h1v1h-1zM474 446h1v1h-1zM475 446h1v1h-1zM476 446h1v1h-1zM477 445h1v1h-1zM478 445h1v1h-1zM479 445h1v1h-1zM480 445h1v1h-1zM481 444h1v1h-1zM482 444h1v1h-1zM483 444h1v1h-1zM484 443h1v1h-1zM485 443h1v1h-1zM486 443h1v1h-1zM487 443h1v1h-1zM488 442h1v1h-1zM489 442h1v1h-1zM490 442h1v1h-1zM491 442h1v1h-1zM492 441h1v1h-1zM493 441h1v1h-1zM494 441h1v1h-1zM495 441h1v1h-1zM496 440h1v1h-1zM497 440h1v1h-1zM498 440h1v1h-1zM499 440h1v1h-1zM500 439h1v1h-1zM501 439h1v1h-1zM502 439h1v1h-1zM503 439h1v1h-1zM504 439h1v1h-1zM505 439h1v1h-1zM506 439h1v1h-1zM507 439h1v1h-1zM508 439h1v1h-1zM509 439h1v1h-1zM510 439h1v1h-1zM511 439h1v1h-1zM512 439h1v1h-1zM513 439h1v1h-1zM514 439h1v1h-1zM515 438h1v1h-1zM516 438h1v1h-1zM517 438h1v1h-1zM518 438h1v1h-1zM519 437h1v1h-1zM520 437h1v1h-1zM521 437h1v1h-1zM522 437h1v1h-1zM523 437h1v1h-1zM524 437h1v1h-1zM525 437h1v1h-1zM526 437h1v1h-1zM527 436h1v1h-1zM528 436h1v1h-1zM529 436h1v1h-1zM530 436h1v1h-1zM531 435h1v1h-1zM532 435h1v1h-1zM533 435h1v1h-1zM534 435h1v1h-1zM535 435h1v1h-1zM536 435h1v1h-1zM537 435h1v1h-1zM538 435h1v1h-1zM539 434h1v1h-1zM540 434h1v1h-1zM541 434h1v1h-1zM542 433h1v1h-1zM543 433h1v1h-1zM544 433h1v1h-1zM545 433h1v1h-1zM546 432h1v1h-1zM547 432h1v1h-1zM548 432h1v1h-1zM549 431h1v1h-1zM550 431h1v1h-1zM551 430h1v1h-1zM552 430h1v1h-1zM553 430h1v1h-1zM554 429h1v1h-1zM555 429h1v1h-1zM556 429h1v1h-1zM557 429h1v1h-1zM558 428h1v1h-1zM559 428h1v1h-1zM560 428h1v1h-1zM561 427h1v1h-1zM562 427h1v1h-1zM563 426h1v1h-1zM564 426h1v1h-1zM565 426h1v1h-1zM566 425h1v1h-1zM567 425h1v1h-1zM568 425h1v1h-1zM569 424h1v1h-1zM570 424h1v1h-1zM571 424h1v1h-1zM572 424h1v1h-1zM573 423h1v1h-1zM574 423h1v1h-1zM575 423h1v1h-1zM576 423h1v1h-1zM577 422h1v1h-1zM578 422h1v1h-1zM579 422h1v1h-1zM580 421h1v1h-1zM581 421h1v1h-1zM582 420h1v1h-1zM583 420h1v1h-1zM584 420h1v1h-1zM585 419h1v1h-1zM586 419h1v1h-1zM587 419h1v1h-1zM588 418h1v1h-1zM589 418h1v1h-1zM590 417h1v1h-1zM591 417h1v1h-1zM592 416h1v1h-1zM593 416h1v1h-1zM594 415h1v1h-1zM595 415h1v1h-1zM596 414h1v1h-1zM597 414h1v1h-1zM598 413h1v1h-1zM599 413h1v1h-1zM600 412h1v1h-1zM601 412h1v1h-1zM602 412h1v1h-1zM603 411h1v1h-1zM604 411h1v1h-1zM605 410h1v1h-1zM606 410h1v1h-1zM607 410h1v1h-1zM608 409h1v1h-1zM609 409h1v1h-1zM610 409h1v1h-1zM611 408h1v1h-1zM612 408h1v1h-1zM613 407h1v1h-1zM614 407h1v1h-1zM615 406h1v1h-1zM616 406h1v1h-1zM617 405h1v1h-1zM618 405h1v1h-1zM619 405h1v1h-1zM620 404h1v1h-1zM621 404h1v1h-1zM622 404h1v1h-1zM623 403h1v1h-1zM624 403h1v1h-1zM625 402h1v1h-1zM626 402h1v1h-1zM627 401h1v1h-1zM628 401h1v1h-1zM629 401h1v1h-1zM630 400h1v1h-1zM631 400h1v1h-1zM632 399h1v1h-1zM633 399h1v1h-1zM634 399h1v1h-1zM635 398h1v1h-1zM636 398h1v1h-1zM637 398h1v1h-1zM638 397h1v1h-1zM639 397h1v1h-1zM640 396h1v1h-1zM641 396h1v1h-1zM642 396h1v1h-1zM643 395h1v1h-1zM644 395h1v1h-1zM645 395h1v1h-1zM646 394h1v1h-1zM647 394h1v1h-1zM648 393h1v1h-1zM649 393h1v1h-1zM650 393h1v1h-1zM651 392h1v1h-1zM652 392h1v1h-1zM653 392h1v1h-1zM654 391h1v1h-1zM655 391h1v1h-1zM656 390h1v1h-1zM657 390h1v1h-1zM658 389h1v1h-1zM659 389h1v1h-1zM660 388h1v1h-1zM661 388h1v1h-1zM662 387h1v1h-1zM663 386h1v1h-1zM664 386h1v1h-1zM665 385h1v1h-1zM666 385h1v1h-1zM667 384h1v1h-1zM668 384h1v1h-1zM669 383h1v1h-1zM670 383h1v1h-1zM671 382h1v1h-1zM672 382h1v1h-1zM673 381h1v1h-1zM674 381h1v1h-1zM675 380h1v1h-1zM676 380h1v1h-1zM677 380h1v1h-1zM678 379h1v1h-1zM679 379h1v1h-1zM680 379h1v1h-1zM681 379h1v1h-1zM682 378h1v1h-1zM683 378h1v1h-1zM684 377h1v1h-1zM685 376h1v1h-1zM686 375h1v1h-1zM687 374h1v1h-1zM688 374h1v1h-1zM689 373h1v1h-1zM690 372h1v1h-1zM691 372h1v1h-1zM692 372h1v1h-1zM693 371h1v1h-1zM694 371h1v1h-1zM695 371h1v1h-1zM696 370h1v1h-1zM697 370h1v1h-1zM698 369h1v1h-1zM699 369h1v1h-1zM700 369h1v1h-1zM701 368h1v1h-1zM702 368h1v1h-1zM703 368h1v1h-1zM704 368h1v1h-1zM705 367h1v1h-1zM706 367h1v1h-1zM707 367h1v1h-1zM708 366h1v1h-1zM709 366h1v1h-1zM710 365h1v1h-1zM711 365h1v1h-1zM712 364h1v1h-1zM713 364h1v1h-1zM714 363h1v1h-1zM715 362h1v1h-1zM716 362h1v1h-1zM717 361h1v1h-1zM718 360h1v1h-1zM719 360h1v1h-1zM720 359h1v1h-1zM721 358h1v1h-1zM722 358h1v1h-1zM723 358h1v1h-1zM724 357h1v1h-1zM725 357h1v1h-1zM726 357h1v1h-1zM727 356h1v1h-1zM728 356h1v1h-1zM729 355h1v1h-1zM730 355h1v1h-1zM731 355h1v1h-1zM732 354h1v1h-1zM733 354h1v1h-1zM734 354h1v1h-1zM735 353h1v1h-1zM736 353h1v1h-1zM737 352h1v1h-1zM738 352h1v1h-1zM739 351h1v1h-1zM740 351h1v1h-1zM741 350h1v1h-1zM742 350h1v1h-1zM743 349h1v1h-1zM744 349h1v1h-1zM745 349h1v1h-1zM746 348h1v1h-1zM747 348h1v1h-1zM748 347h1v1h-1zM749 347h1v1h-1zM750 346h1v1h-1zM751 346h1v1h-1zM752 345h1v1h-1zM753 345h1v1h-1zM754 344h1v1h-1zM755 344h1v1h-1zM756 343h1v1h-1zM757 343h1v1h-1zM758 343h1v1h-1zM759 342h1v1h-1zM760 342h1v1h-1zM761 341h1v1h-1zM762 341h1v1h-1zM763 340h1v1h-1zM764 339h1v1h-1zM765 339h1v1h-1zM766 338h1v1h-1zM767 338h1v1h-1zM768 337h1v1h-1zM769 337h1v1h-1zM770 336h1v1h-1zM771 336h1v1h-1zM772 335h1v1h-1zM773 334h1v1h-1zM774 334h1v1h-1zM775 333h1v1h-1zM776 332h1v1h-1zM777 332h1v1h-1zM778 331h1v1h-1zM779 330h1v1h-1zM780 330h1v1h-1zM781 329h1v1h-1zM782 329h1v1h-1zM783 328h1v1h-1zM784 327h1v1h-1zM785 327h1v1h-1zM786 326h1v1h-1zM787 325h1v1h-1zM788 325h1v1h-1zM789 324h1v1h-1zM790 324h1v1h-1zM791 323h1v1h-1zM792 323h1v1h-1zM793 322h1v1h-1zM794 322h1v1h-1zM795 321h1v1h-1zM796 321h1v1h-1zM797 320h1v1h-1zM798 320h1v1h-1zM799 319h1v1h-1zM800 318h1v1h-1zM801 318h1v1h-1zM802 317h1v1h-1zM803 317h1v1h-1zM804 316h1v1h-1zM805 316h1v1h-1zM806 315h1v1h-1zM807 314h1v1h-1zM808 314h1v1h-1zM809 313h1v1h-1zM810 312h1v1h-1zM811 312h1v1h-1zM812 311h1v1h-1zM813 311h1v1h-1zM814 310h1v1h-1zM815 310h1v1h-1zM816 310h1v1h-1zM817 309h1v1h-1zM818 309h1v1h-1zM819 309h1v1h-1zM820 308h1v1h-1zM821 308h1v1h-1zM822 307h1v1h-1zM823 307h1v1h-1zM824 306h1v1h-1zM825 306h1v1h-1zM826 305h1v1h-1zM827 305h1v1h-1zM828 305h1v1h-1zM829 304h1v1h-1zM830 304h1v1h-1zM831 303h1v1h-1zM832 303h1v1h-1zM833 302h1v1h-1zM834 301h1v1h-1zM835 301h1v1h-1zM836 300h1v1h-1zM837 299h1v1h-1zM838 299h1v1h-1zM839 298h1v1h-1zM840 298h1v1h-1zM841 297h1v1h-1zM842 296h1v1h-1zM843 296h1v1h-1zM844 295h1v1h-1zM845 294h1v1h-1zM846 294h1v1h-1zM847 293h1v1h-1zM848 293h1v1h-1zM849 292h1v1h-1zM850 291h1v1h-1zM851 291h1v1h-1zM852 290h1v1h-1zM853 289h1v1h-1zM854 289h1v1h-1zM855 288h1v1h-1zM856 288h1v1h-1zM857 287h1v1h-1zM858 287h1v1h-1zM859 286h1v1h-1zM860 286h1v1h-1zM861 286h1v1h-1zM862 285h1v1h-1zM863 285h1v1h-1zM864 284h1v1h-1zM865 283h1v1h-1zM866 283h1v1h-1zM867 282h1v1h-1zM868 281h1v1h-1zM869 281h1v1h-1zM870 280h1v1h-1zM871 280h1v1h-1zM872 279h1v1h-1zM873 279h1v1h-1zM874 279h1v1h-1zM875 278h1v1h-1zM876 278h1v1h-1zM877 278h1v1h-1zM878 277h1v1h-1zM879 277h1v1h-1zM880 276h1v1h-1zM881 276h1v1h-1zM882 276h1v1h-1zM883 275h1v1h-1zM884 275h1v1h-1zM885 275h1v1h-1zM886 274h1v1h-1zM887 274h1v1h-1zM888 274h1v1h-1zM889 274h1v1h-1zM890 273h1v1h-1zM891 273h1v1h-1zM892 273h1v1h-1zM893 273h1v1h-1zM894 272h1v1h-1zM895 272h1v1h-1zM896 272h1v1h-1zM897 271h1v1h-1zM898 271h1v1h-1zM899 270h1v1h-1zM900 270h1v1h-1zM901 270h1v1h-1zM902 269h1v1h-1zM903 269h1v1h-1zM904 269h1v1h-1zM905 269h1v1h-1zM906 268h1v1h-1zM907 268h1v1h-1zM908 268h1v1h-1zM909 268h1v1h-1zM910 267h1v1h-1zM911 267h1v1h-1zM912 267h1v1h-1zM913 266h1v1h-1zM914 266h1v1h-1zM915 265h1v1h-1zM916 265h1v1h-1zM917 264h1v1h-1zM918 264h1v1h-1zM919 264h1v1h-1zM920 263h1v1h-1zM921 263h1v1h-1zM922 262h1v1h-1zM923 262h1v1h-1zM924 262h1v1h-1zM925 262h1v1h-1zM926 262h1v1h-1zM927 262h1v1h-1zM928 262h1v1h-1zM929 261h1v1h-1zM930 261h1v1h-1zM931 261h1v1h-1zM932 261h1v1h-1zM933 260h1v1h-1zM934 260h1v1h-1zM935 260h1v1h-1zM936 260h1v1h-1zM937 260h1v1h-1zM938 260h1v1h-1zM939 260h1v1h-1zM940 260h1v1h-1zM941 260h1v1h-1zM942 260h1v1h-1zM943 260h1v1h-1zM944 259h1v1h-1zM945 259h1v1h-1zM946 259h1v1h-1zM947 259h1v1h-1zM948 259h1v1h-1zM949 259h1v1h-1zM950 259h1v1h-1zM951 259h1v1h-1zM952 259h1v1h-1zM953 259h1v1h-1zM954 259h1v1h-1zM955 259h1v1h-1zM956 259h1v1h-1zM957 259h1v1h-1zM958 259h1v1h-1zM959 259h1v1h-1zM960 259h1v1h-1zM961 259h1v1h-1zM962 259h1v1h-1zM963 259h1v1h-1zM964 258h1v1h-1zM965 258h1v1h-1zM966 258h1v1h-1zM967 258h1v1h-1zM968 258h1v1h-1zM969 258h1v1h-1zM970 258h1v1h-1zM971 258h1v1h-1zM972 258h1v1h-1zM973 258h1v1h-1zM974 258h1v1h-1zM975 257h1v1h-1zM976 257h1v1h-1zM977 257h1v1h-1zM978 257h1v1h-1zM979 257h1v1h-1zM980 257h1v1h-1zM981 257h1v1h-1zM982 257h1v1h-1zM983 257h1v1h-1zM984 257h1v1h-1zM985 257h1v1h-1zM986 257h1v1h-1zM987 256h1v1h-1zM988 256h1v1h-1zM989 256h1v1h-1zM990 256h1v1h-1zM991 256h1v1h-1zM992 256h1v1h-1zM993 256h1v1h-1zM994 256h1v1h-1zM995 255h1v1h-1zM996 255h1v1h-1zM997 255h1v1h-1zM998 255h1v1h-1zM999 255h1v1h-1zM1000 255h1v1h-1zM1001 255h1v1h-1zM1002 254h1v1h-1zM1003 254h1v1h-1zM1004 254h1v1h-1zM1005 254h1v1h-1zM1006 254h1v1h-1zM1007 254h1v1h-1zM1008 254h1v1h-1zM1009 254h1v1h-1zM1010 253h1v1h-1zM1011 253h1v1h-1zM1012 253h1v1h-1zM1013 253h1v1h-1zM1014 253h1v1h-1zM1015 253h1v1h-1z" fill="#ffa500" shape-rendering="crispEdges"/>
<path d="M10 484h1v1h-1zM11 484h1v1h-1zM12 484h1v1h-1zM13 483h1v1h-1zM14 483h1v1h-1zM15 483h1v1h-1zM16 483h1v1h-1zM17 482h1v1h-1zM18 482h1v1h-1zM19 482h1v1h-1zM20 482h1v1h-1zM21 481h1v1h-1zM22 481h1v1h-1zM23 481h1v1h-1zM24 480h1v1h-1zM25 480h1v1h-1zM26 480h1v1h-1zM27 480h1v1h-1zM28 479h1v1h-1zM29 479h1v1h-1zM30 479h1v1h-1zM31 479h1v1h-1zM32 478h1v1h-1zM33 478h1v1h-1zM34 478h1v1h-1zM35 478h1v1h-1zM36 477h1v1h-1zM37 477h1v1h-1zM38 477h1v1h-1zM39 477h1v1h-1zM40 476h1v1h-1zM41 476h1v1h-1zM42 476h1v1h-1zM43 476h1v1h-1zM44 475h1v1h-1zM45 475h1v1h-1zM46 475h1v1h-1zM47 474h1v1h-1zM48 474h1v1h-1zM49 473h1v1h-1zM50 473h1v1h-1zM51 472h1v1h-1zM52 472h1v1h-1zM53 472h1v1h-1zM54 472h1v1h-1zM55 471h1v1h-1zM56 471h1v1h-1zM57 471h1v1h-1zM58 471h1v1h-1zM59 470h1v1h-1zM60 470h1v1h-1zM61 470h1v1h-1zM62 470h1v1h-1zM63 469h1v1h-1zM64 469h1v1h-1zM65 469h1v1h-1zM66 468h1v1h-1zM67 468h1v1h-1zM68 467h1v1h-1zM69 467h1v1h-1zM70 467h1v1h-1zM71 466h1v1h-1zM72 466h1v1h-1zM73 466h1v1h-1zM74 465h1v1h-1zM75 465h1v1h-1zM76 464h1v1h-1zM77 464h1v1h-1zM78 464h1v1h-1zM79 463h1v1h-1zM80 463h1v1h-1zM81 463h1v1h-1zM82 462h1v1h-1zM83 462h1v1h-1zM84 462h1v1h-1zM85 462h1v1h-1zM86 461h1v1h-1zM87 461h1v1h-1zM88 461h1v1h-1zM89 461h1v1h-1zM90 460h1v1h-1zM91 460h1v1h-1zM92 460h1v1h-1zM93 460h1v1h-1zM94 459h1v1h-1zM95 459h1v1h-1zM96 459h1v1h-1zM97 458h1v1h-1zM98 458h1v1h-1zM99 457h1v1h-1zM100 457h1v1h-1zM101 457h1v1h-1zM102 456h1v1h-1zM103 456h1v1h-1zM104 456h1v1h-1zM105 456h1v1h-1zM106 455h1v1h-1zM107 455h1v1h-1zM108 455h1v1h-1zM109 455h1v1h-1zM110 455h1v1h-1zM111 455h1v1h-1zM112 455h1v1h-1zM113 455h1v1h-1zM114 455h1v1h-1zM115 455h1v1h-1zM116 455h1v1h-1zM117 454h1v1h-1zM118 454h1v1h-1zM119 454h1v1h-1zM120 454h1v1h-1zM121 453h1v1h-1zM122 453h1v1h-1zM123 453h1v1h-1zM124 453h1v1h-1zM125 453h1v1h-1zM126 453h1v1h-1zM127 453h1v1h-1zM128 453h1v1h-1zM129 452h1v1h-1zM130 452h1v1h-1zM131 452h1v1h-1zM132 452h1v1h-1zM133 451h1v1h-1zM134 451h1v1h-1zM135 451h1v1h-1zM136 451h1v1h-1zM137 450h1v1h-1zM138 450h1v1h-1zM139 450h1v1h-1zM140 449h1v1h-1zM141 449h1v1h-1zM142 449h1v1h-1zM143 449h1v1h-1zM144 448h1v1h-1zM145 448h1v1h-1zM146 448h1v1h-1zM147 448h1v1h-1zM148 447h1v1h-1zM149 447h1v1h-1zM150 447h1v1h-1zM151 447h1v1h-1zM152 446h1v1h-1zM153 446h1v1h-1zM154 446h1v1h-1zM155 446h1v1h-1zM156 445h1v1h-1zM157 445h1v1h-1zM158 445h1v1h-1zM159 445h1v1h-1zM160 444h1v1h-1zM161 444h1v1h-1zM162 444h1v1h-1zM163 443h1v1h-1zM164 443h1v1h-1zM165 442h1v1h-1zM166 442h1v1h-1zM167 442h1v1h-1zM168 442h1v1h-1zM169 442h1v1h-1zM170 441h1v1h-1zM171 441h1v1h-1zM172 440h1v1h-1zM173 440h1v1h-1zM174 440h1v1h-1zM175 439h1v1h-1zM176 439h1v1h-1zM177 439h1v1h-1zM178 439h1v1h-1zM179 438h1v1h-1zM180 438h1v1h-1zM181 438h1v1h-1zM182 437h1v1h-1zM183 437h1v1h-1zM184 436h1v1h-1zM185 436h1v1h-1zM186 436h1v1h-1zM187 435h1v1h-1zM188 435h1v1h-1zM189 435h1v1h-1zM190 435h1v1h-1zM191 434h1v1h-1zM192 434h1v1h-1zM193 434h1v1h-1zM194 433h1v1h-1zM195 433h1v1h-1zM196 433h1v1h-1zM197 433h1v1h-1zM198 432h1v1h-1zM199 432h1v1h-1zM200 432h1v1h-1zM201 431h1v1h-1zM202 431h1v1h-1zM203 430h1v1h-1zM204 430h1v1h-1zM205 429h1v1h-1zM206 429h1v1h-1zM207 428h1v1h-1zM208 428h1v1h-1zM209 428h1v1h-1zM210 427h1v1h-1zM211 427h1v1h-1zM212 427h1v1h-1zM213 427h1v1h-1zM214 427h1v1h-1zM215 427h1v1h-1zM216 427h1v1h-1zM217 427h1v1h-1zM218 427h1v1h-1zM219 427h1v1h-1zM220 427h1v1h-1zM221 427h1v1h-1zM222 427h1v1h-1zM223 427h1v1h-1zM224 427h1v1h-1zM225 427h1v1h-1zM226 427h1v1h-1zM227 427h1v1h-1zM228 427h1v1h-1zM229 428h1v1h-1zM230 428h1v1h-1zM231 428h1v1h-1zM232 428h1v1h-1zM233 428h1v1h-1zM234 428h1v1h-1zM235 428h1v1h-1zM236 428h1v1h-1zM237 428h1v1h-1zM238 428h1v1h-1zM239 428h1v1h-1zM240 428h1v1h-1zM241 428h1v1h-1zM242 428h1v1h-1zM243 428h1v1h-1zM244 428h1v1h-1zM245 429h1v1h-1zM246 429h1v1h-1zM247 429h1v1h-1zM248 429h1v1h-1zM249 429h1v1h-1zM250 429h1v1h-1zM251 429h1v1h-1zM252 430h1v1h-1zM253 430h1v1h-1zM254 430h1v1h-1zM255 431h1v1h-1zM256 431h1v1h-1zM257 432h1v1h-1zM258 432h1v1h-1zM259 432h1v1h-1zM260 433h1v1h-1zM261 433h1v1h-1zM262 433h1v1h-1zM263 433h1v1h-1zM264 434h1v1h-1zM265 434h1v1h-1zM266 434h1v1h-1zM267 434h1v1h-1zM268 435h1v1h-1zM269 435h1v1h-1zM270 435h1v1h-1zM271 435h1v1h-1zM272 435h1v1h-1zM273 435h1v1h-1zM274 435h1v1h-1zM275 435h1v1h-1zM276 435h1v1h-1zM277 435h1v1h-1zM278 435h1v1h-1zM279 435h1v1h-1zM280 435h1v1h-1zM281 435h1v1h-1zM282 435h1v1h-1zM283 435h1v1h-1zM284 435h1v1h-1zM285 435h1v1h-1zM286 435h1v1h-1zM287 434h1v1h-1zM288 434h1v1h-1zM289 434h1v1h-1zM290 434h1v1h-1zM291 433h1v1h-1zM292 433h1v1h-1zM293 433h1v1h-1zM294 433h1v1h-1zM295 433h1v1h-1zM296 433h1v1h-1zM297 433h1v1h-1zM298 433h1v1h-1zM299 433h1v1h-1zM300 433h1v1h-1zM301 433h1v1h-1zM302 433h1v1h-1zM303 432h1v1h-1zM304 432h1v1h-1zM305 432h1v1h-1zM306 432h1v1h-1zM307 431h1v1h-1zM308 431h1v1h-1zM309 431h1v1h-1zM310 430h1v1h-1zM311 430h1v1h-1zM312 430h1v1h-1zM313 430h1v1h-1zM314 429h1v1h-1zM315 429h1v1h-1zM316 429h1v1h-1zM317 429h1v1h-1zM318 428h1v1h-1zM319 428h1v1h-1zM320 428h1v1h-1zM321 427h1v1h-1zM322 427h1v1h-1zM323 426h1v1h-1zM324 426h1v1h-1zM325 426h1v1h-1zM326 425h1v1h-1zM327 425h1v1h-1zM328 425h1v1h-1zM329 425h1v1h-1zM330 424h1v1h-1zM331 424h1v1h-1zM332 424h1v1h-1zM333 424h1v1h-1zM334 423h1v1h-1zM335 423h1v1h-1zM336 423h1v1h-1zM337 423h1v1h-1zM338 422h1v1h-1zM339 422h1v1h-1zM340 422h1v1h-1zM341 422h1v1h-1zM342 422h1v1h-1zM343 422h1v1h-1zM344 422h1v1h-1zM345 422h1v1h-1zM346 422h1v1h-1zM347 422h1v1h-1zM348 422h1v1h-1zM349 421h1v1h-1zM350 421h1v1h-1zM351 421h1v1h-1zM352 421h1v1h-1zM353 421h1v1h-1zM354 421h1v1h-1zM355 421h1v1h-1zM356 421h1v1h-1zM357 420h1v1h-1zM358 420h1v1h-1zM359 420h1v1h-1zM360 420h1v1h-1zM361 419h1v1h-1zM362 419h1v1h-1zM363 419h1v1h-1zM364 419h1v1h-1zM365 418h1v1h-1zM366 418h1v1h-1zM367 418h1v1h-1zM368 417h1v1h-1zM369 417h1v1h-1zM370 417h1v1h-1zM371 417h1v1h-1zM372 416h1v1h-1zM373 416h1v1h-1zM374 416h1v1h-1zM375 416h1v1h-1zM376 415h1v1h-1zM377 415h1v1h-1zM378 415h1v1h-1zM379 415h1v1h-1zM380 414h1v1h-1zM381 414h1v1h-1zM382 414h1v1h-1zM383 414h1v1h-1zM384 413h1v1h-1zM385 413h1v1h-1zM386 413h1v1h-1zM387 413h1v1h-1zM388 413h1v1h-1zM389 413h1v1h-1zM390 413h1v1h-1zM391 413h1v1h-1zM392 413h1v1h-1zM393 413h1v1h-1zM394 413h1v1h-1zM395 413h1v1h-1zM396 412h1v1h-1zM397 412h1v1h-1zM398 412h1v1h-1zM399 412h1v1h-1zM400 412h1v1h-1zM401 412h1v1h-1zM402 412h1v1h-1zM403 411h1v1h-1zM404 411h1v1h-1zM405 411h1v1h-1zM406 411h1v1h-1zM407 410h1v1h-1zM408 410h1v1h-1zM409 410h1v1h-1zM410 410h1v1h-1zM411 409h1v1h-1zM412 409h1v1h-1zM413 409h1v1h-1zM414 409h1v1h-1zM415 409h1v1h-1zM416 409h1v1h-1zM417 409h1v1h-1zM418 409h1v1h-1zM419 409h1v1h-1zM420 409h1v1h-1zM421 409h1v1h-1zM422 409h1v1h-1zM423 408h1v1h-1zM424 408h1v1h-1zM425 408h1v1h-1zM426 407h1v1h-1zM427 407h1v1h-1zM428 407h1v1h-1zM429 407h1v1h-1zM430 406h1v1h-1zM431 406h1v1h-1zM432 406h1v1h-1zM433 406h1v1h-1zM434 405h1v1h-1zM435 405h1v1h-1zM436 405h1v1h-1zM437 405h1v1h-1zM438 404h1v1h-1zM439 404h1v1h-1zM440 404h1v1h-1zM441 403h1v1h-1zM442 403h1v1h-1zM443 402h1v1h-1zM444 402h1v1h-1zM445 402h1v1h-1zM446 401h1v1h-1zM447 401h1v1h-1zM448 401h1v1h-1zM449 400h1v1h-1zM450 400h1v1h-1zM451 399h1v1h-1zM452 399h1v1h-1zM453 398h1v1h-1zM454 398h1v1h-1zM455 397h1v1h-1zM456 397h1v1h-1zM457 396h1v1h-1zM458 396h1v1h-1zM459 396h1v1h-1zM460 395h1v1h-1zM461 395h1v1h-1zM462 394h1v1h-1zM463 394h1v1h-1zM464 393h1v1h-1zM465 393h1v1h-1zM466 392h1v1h-1zM467 392h1v1h-1zM468 391h1v1h-1zM469 391h1v1h-1zM470 390h1v1h-1zM471 390h1v1h-1zM472 390h1v1h-1zM473 389h1v1h-1zM474 389h1v1h-1zM475 389h1v1h-1zM476 388h1v1h-1zM477 388h1v1h-1zM478 387h1v1h-1zM479 387h1v1h-1zM480 386h1v1h-1zM481 386h1v1h-1zM482 385h1v1h-1zM483 385h1v1h-1zM484 384h1v1h-1zM485 384h1v1h-1zM486 383h1v1h-1zM487 383h1v1h-1zM488 382h1v1h-1zM489 381h1v1h-1zM490 380h1v1h-1zM491 380h1v1h-1zM492 379h1v1h-1zM493 378h1v1h-1zM494 378h1v1h-1zM495 378h1v1h-1zM496 377h1v1h-1zM497 377h1v1h-1zM498 377h1v1h-1zM499 377h1v1h-1zM500 377h1v1h-1zM501 377h1v1h-1zM502 377h1v1h-1zM503 377h1v1h-1zM504 378h1v1h-1zM505 378h1v1h-1zM506 379h1v1h-1zM507 379h1v1h-1zM508 380h1v1h-1zM509 381h1v1h-1zM510 381h1v1h-1zM511 381h1v1h-1zM512 382h1v1h-1zM513 382h1v1h-1zM514 382h1v1h-1zM515 383h1v1h-1zM516 383h1v1h-1zM517 383h1v1h-1zM518 383h1v1h-1zM519 383h1v1h-1zM520 383h1v1h-1zM521 383h1v1h-1zM522 383h1v1h-1zM523 382h1v1h-1zM524 382h1v1h-1zM525 382h1v1h-1zM526 381h1v1h-1zM527 381h1v1h-1zM528 380h1v1h-1zM529 380h1v1h-1zM530 380h1v1h-1zM531 380h1v1h-1zM532 380h1v1h-1zM533 380h1v1h-1zM534 379h1v1h-1zM535 379h1v1h-1zM536 378h1v1h-1zM537 378h1v1h-1zM538 377h1v1h-1zM539 377h1v1h-1zM540 376h1v1h-1zM541 375h1v1h-1zM542 375h1v1h-1zM543 374h1v1h-1zM544 373h1v1h-1zM545 373h1v1h-1zM546 372h1v1h-1zM547 371h1v1h-1zM548 371h1v1h-1zM549 370h1v1h-1zM550 370h1v1h-1zM551 369h1v1h-1zM552 369h1v1h-1zM553 368h1v1h-1zM554 368h1v1h-1zM555 367h1v1h-1zM556 366h1v1h-1zM557 366h1v1h-1zM558 365h1v1h-1zM559 364h1v1h-1zM560 364h1v1h-1zM561 363h1v1h-1zM562 363h1v1h-1zM563 362h1v1h-1zM564 361h1v1h-1zM565 361h1v1h-1zM566 360h1v1h-1zM567 359h1v1h-1zM568 357h1v2h-1zM569 356h1v1h-1zM570 355h1v1h-1zM571 354h1v1h-1zM572 353h1v1h-1zM573 352h1v1h-1zM574 351h1v1h-1zM575 351h1v1h-1zM576 350h1v1h-1zM577 350h1v1h-1zM578 349h1v1h-1zM579 348h1v1h-1zM580 348h1v1h-1zM581 347h1v1h-1zM582 346h1v1h-1zM583 345h1v1h-1zM584 344h1v1h-1zM585 343h1v1h-1zM586 342h1v1h-1zM587 341h1v1h-1zM588 341h1v1h-1zM589 340h1v1h-1zM590 339h1v1h-1zM591 338h1v1h-1zM592 336h1v2h-1zM593 335h1v1h-1zM594 334h1v1h-1zM595 332h1v2h-1zM596 331h1v1h-1zM597 329h1v2h-1zM598 328h1v1h-1zM599 327h1v1h-1zM600 326h1v1h-1zM601 325h1v1h-1zM602 324h1v1h-1zM603 324h1v1h-1zM604 323h1v1h-1zM605 322h1v1h-1zM606 322h1v1h-1zM607 321h1v1h-1zM608 321h1v1h-1zM609 320h1v1h-1zM610 319h1v1h-1zM611 319h1v1h-1zM612 318h1v1h-1zM613 317h1v1h-1zM614 317h1v1h-1zM615 316h1v1h-1zM616 316h1v1h-1zM617 315h1v1h-1zM618 314h1v1h-1zM619 314h1v1h-1zM620 313h1v1h-1zM621 312h1v1h-1zM622 311h1v1h-1zM623 310h1v1h-1zM624 309h1v1h-1zM625 308h1v1h-1zM626 307h1v1h-1zM627 306h1v1h-1zM628 305h1v1h-1zM629 305h1v1h-1zM630 305h1v1h-1zM631 304h1v1h-1zM632 304h1v1h-1zM633 303h1v1h-1zM634 303h1v1h-1zM635 302h1v1h-1zM636 301h1v1h-1zM637 300h1v1h-1zM638 299h1v1h-1zM639 298h1v1h-1zM640 297h1v1h-1zM641 296h1v1h-1zM642 296h1v1h-1zM643 295h1v1h-1zM644 294h1v1h-1zM645 293h1v1h-1zM646 292h1v1h-1zM647 291h1v1h-1zM648 290h1v1h-1zM649 289h1v1h-1zM650 288h1v1h-1zM651 287h1v1h-1zM652 286h1v1h-1zM653 285h1v1h-1zM654 285h1v1h-1zM655 284h1v1h-1zM656 283h1v1h-1zM657 282h1v1h-1zM658 281h1v1h-1zM659 280h1v1h-1zM660 279h1v1h-1zM661 278h1v1h-1zM662 277h1v1h-1zM663 276h1v1h-1zM664 275h1v1h-1zM665 275h1v1h-1zM666 274h1v1h-1zM667 273h1v1h-1zM668 272h1v1h-1zM669 271h1v1h-1zM670 270h1v1h-1zM671 269h1v1h-1zM672 268h1v1h-1zM673 267h1v1h-1zM674 266h1v1h-1zM675 265h1v1h-1zM676 264h1v1h-1zM677 264h1v1h-1zM678 263h1v1h-1zM679 262h1v1h-1zM680 261h1v1h-1zM681 260h1v1h-1zM682 259h1v1h-1zM683 258h1v1h-1zM684 257h1v1h-1zM685 256h1v1h-1zM686 255h1v1h-1zM687 254h1v1h-1zM688 252h1v2h-1zM689 251h1v1h-1zM690 250h1v1h-1zM691 249h1v1h-1zM692 248h1v1h-1zM693 247h1v1h-1zM694 246h1v1h-1zM695 245h1v1h-1zM696 245h1v1h-1zM697 244h1v1h-1zM698 243h1v1h-1zM699 243h1v1h-1zM700 242h1v1h-1zM701 242h1v1h-1zM702 241h1v1h-1zM703 241h1v1h-1zM704 241h1v1h-1zM705 240h1v1h-1zM706 240h1v1h-1zM707 240h1v1h-1zM708 239h1v1h-1zM709 239h1v1h-1zM710 238h1v1h-1zM711 238h1v1h-1zM712 237h1v1h-1zM713 237h1v1h-1zM714 236h1v1h-1zM715 235h1v1h-1zM716 235h1v1h-1zM717 234h1v1h-1zM718 233h1v1h-1zM719 232h1v1h-1zM720 231h1v1h-1zM721 230h1v1h-1zM722 229h1v1h-1zM723 228h1v1h-1zM724 227h1v1h-1zM725 226h1v1h-1zM726 225h1v1h-1zM727 225h1v1h-1zM728 224h1v1h-1zM729 223h1v1h-1zM730 222h1v1h-1zM731 222h1v1h-1zM732 221h1v1h-1zM733 220h1v1h-1zM734 219h1v1h-1zM735 219h1v1h-1zM736 218h1v1h-1zM737 217h1v1h-1zM738 217h1v1h-1zM739 216h1v1h-1zM740 216h1v1h-1zM741 215h1v1h-1zM742 214h1v1h-1zM743 214h1v1h-1zM744 213h1v1h-1zM745 213h1v1h-1zM746 212h1v1h-1zM747 212h1v1h-1zM748 211h1v1h-1zM749 211h1v1h-1zM750 210h1v1h-1zM751 210h1v1h-1zM752 209h1v1h-1zM753 209h1v1h-1zM754 208h1v1h-1zM755 208h1v1h-1zM756 207h1v1h-1zM757 206h1v1h-1zM758 206h1v1h-1zM759 205h1v1h-1zM760 204h1v1h-1zM761 203h1v1h-1zM762 203h1v1h-1zM763 202h1v1h-1zM764 201h1v1h-1zM765 200h1v1h-1zM766 200h1v1h-1zM767 199h1v1h-1zM768 198h1v1h-1zM769 197h1v1h-1zM770 197h1v1h-1zM771 196h1v1h-1zM772 195h1v1h-1zM773 194h1v1h-1zM774 193h1v1h-1zM775 192h1v1h-1zM776 191h1v1h-1zM777 190h1v1h-1zM778 189h1v1h-1zM779 188h1v1h-1zM780 187h1v1h-1zM781 187h1v1h-1zM782 186h1v1h-1zM783 185h1v1h-1zM784 184h1v1h-1zM785 183h1v1h-1zM786 182h1v1h-1zM787 181h1v1h-1zM788 180h1v1h-1zM789 180h1v1h-1zM790 179h1v1h-1zM791 178h1v1h-1zM792 177h1v1h-1zM793 177h1v1h-1zM794 176h1v1h-1zM795 175h1v1h-1zM796 174h1v1h-1zM797 173h1v1h-1zM798 172h1v1h-1zM799 171h1v1h-1zM800 169h1v2h-1zM801 168h1v1h-1zM802 167h1v1h-1zM803 166h1v1h-1zM804 165h1v1h-1zM805 164h1v1h-1zM806 163h1v1h-1zM807 163h1v1h-1zM808 162h1v1h-1zM809 162h1v1h-1zM810 161h1v1h-1zM811 160h1v1h-1zM812 160h1v1h-1zM813 159h1v1h-1zM814 158h1v1h-1zM815 158h1v1h-1zM816 158h1v1h-1zM817 157h1v1h-1zM818 157h1v1h-1zM819 156h1v1h-1zM820 156h1v1h-1zM821 155h1v1h-1zM822 154h1v1h-1zM823 153h1v1h-1zM824 153h1v1h-1zM825 152h1v1h-1zM826 151h1v1h-1zM827 151h1v1h-1zM828 150h1v1h-1zM829 150h1v1h-1zM830 149h1v1h-1zM831 148h1v1h-1zM832 148h1v1h-1zM833 147h1v1h-1zM834 146h1v1h-1zM835 146h1v1h-1zM836 145h1v1h-1zM837 144h1v1h-1zM838 143h1v1h-1zM839 142h1v1h-1zM840 141h1v1h-1zM841 140h1v1h-1zM842 139h1v1h-1zM843 138h1v1h-1zM844 137h1v1h-1zM845 136h1v1h-1zM846 135h1v1h-1zM847 135h1v1h-1zM848 134h1v1h-1zM849 133h1v1h-1zM850 133h1v1h-1zM851 132h1v1h-1zM852 132h1v1h-1zM853 131h1v1h-1zM854 130h1v1h-1zM855 130h1v1h-1zM856 129h1v1h-1zM857 128h1v1h-1zM858 127h1v1h-1zM859 127h1v1h-1zM860 126h1v1h-1zM861 125h1v1h-1zM862 125h1v1h-1zM863 124h1v1h-1zM864 123h1v1h-1zM865 122h1v1h-1zM866 122h1v1h-1zM867 121h1v1h-1zM868 120h1v1h-1zM869 120h1v1h-1zM870 120h1v1h-1zM871 119h1v1h-1zM872 119h1v1h-1zM873 119h1v1h-1zM874 119h1v1h-1zM875 118h1v1h-1zM876 118h1v1h-1zM877 118h1v1h-1zM878 118h1v1h-1zM879 119h1v1h-1zM880 119h1v1h-1zM881 119h1v1h-1zM882 119h1v1h-1zM883 120h1v1h-1zM884 120h1v1h-1zM885 120h1v1h-1zM886 121h1v1h-1zM887 121h1v1h-1zM888 121h1v1h-1zM889 122h1v1h-1zM890 122h1v1h-1zM891 123h1v1h-1zM892 123h1v1h-1zM893 123h1v1h-1zM894 124h1v1h-1zM895 124h1v1h-1zM896 124h1v1h-1zM897 124h1v1h-1zM898 125h1v1h-1zM899 125h1v1h-1zM900 126h1v1h-1zM901 126h1v1h-1zM902 127h1v1h-1zM903 128h1v1h-1zM904 128h1v1h-1zM905 129h1v1h-1zM906 129h1v1h-1zM907 130h1v1h-1zM908 130h1v1h-1zM909 130h1v1h-1zM910 130h1v1h-1zM911 130h1v1h-1zM912 130h1v1h-1zM913 130h1v1h-1zM914 130h1v1h-1zM915 130h1v1h-1zM916 130h1v1h-1zM917 130h1v1h-1zM918 130h1v1h-1zM919 130h1v1h-1zM920 130h1v1h-1zM921 131h1v1h-1zM922 131h1v1h-1zM923 131h1v1h-1zM924 131h1v1h-1zM925 132h1v1h-1zM926 132h1v1h-1zM927 133h1v1h-1zM928 133h1v1h-1zM929 134h1v1h-1zM930 135h1v1h-1zM931 136h1v1h-1zM932 136h1v1h-1zM933 137h1v1h-1zM934 138h1v1h-1zM935 139h1v1h-1zM936 139h1v1h-1zM937 140h1v1h-1zM938 141h1v1h-1zM939 142h1v1h-1zM940 143h1v1h-1zM941 144h1v1h-1zM942 145h1v1h-1zM943 146h1v2h-1zM944 148h1v1h-1zM945 149h1v1h-1zM946 150h1v1h-1zM947 151h1v1h-1zM948 152h1v1h-1zM949 153h1v1h-1zM950 154h1v1h-1zM951 154h1v1h-1zM952 155h1v1h-1zM953 156h1v1h-1zM954 157h1v1h-1zM955 158h1v1h-1zM956 159h1v1h-1zM957 160h1v1h-1zM958 161h1v1h-1zM959 162h1v2h-1zM960 164h1v1h-1zM961 165h1v1h-1zM962 166h1v1h-1zM963 166h1v1h-1zM964 167h1v1h-1zM965 168h1v1h-1zM966 169h1v1h-1zM967 170h1v1h-1zM968 171h1v1h-1zM969 172h1v1h-1zM970 173h1v1h-1zM971 173h1v1h-1zM972 174h1v1h-1zM973 175h1v1h-1zM974 176h1v1h-1zM975 177h1v1h-1zM976 178h1v1h-1zM977 178h1v1h-1zM978 179h1v1h-1zM979 179h1v1h-1zM980 180h1v1h-1zM981 180h1v1h-1zM982 180h1v1h-1zM983 181h1v1h-1zM984 181h1v1h-1zM985 181h1v1h-1zM986 181h1v1h-1zM987 181h1v1h-1zM988 181h1v1h-1zM989 181h1v1h-1zM990 181h1v1h-1zM991 181h1v1h-1zM992 181h1v1h-1zM993 181h1v1h-1zM994 181h1v1h-1zM995 181h1v1h-1zM996 181h1v1h-1zM997 181h1v1h-1zM998 182h1v1h-1zM999 182h1v1h-1zM1000 183h1v1h-1zM1001 183h1v1h-1zM1002 184h1v1h-1zM1003 184h1v1h-1zM1004 184h1v1h-1zM1005 185h1v1h-1zM1006 185h1v1h-1zM1007 186h1v1h-1zM1008 187h1v1h-1zM1009 187h1v1h-1zM1010 188h1v1h-1zM1011 189h1v1h-1zM1012 190h1v1h-1zM1013 190h1v1h-1zM1014 191h1v1h-1zM1015 192h1v1h-1z" fill="#a52a2a" shape-rendering="crispEdges"/>
<g shape-rendering="crispEdges" fill="#000000">
<rect x="1" y="30" width="1025" height="1"/>
<rect x="1" y="544" width="1025" height="1"/>
<rect x="1" y="30" width="1" height="515"/>
<rect x="1025" y="30" width="1" height="515"/>
<rect x="1026" y="507" width="2" height="1"/><rect x="0" y="507" width="1" height="1"/>
<rect x="1026" y="514" width="1" height="1"/><rect x="0" y="514" width="1" height="1"/>
<rect x="1026" y="522" width="1" height="1"/><rect x="0" y="522" width="1" height="1"/>
<rect x="1026" y="530" width="1" height="1"/><rect x="0" y="530" width="1" height="1"/>
<rect x="1026" y="538" width="1" height="1"/><rect x="0" y="538" width="1" height="1"/>
<rect x="1026" y="468" width="2" height="1"/><rect x="0" y="468" width="1" height="1"/>
<rect x="1026" y="475" width="1" height="1"/><rect x="0" y="475" width="1" height="1"/>
<rect x="1026" y="483" width="1" height="1"/><rect x="0" y="483" width="1" height="1"/>
<rect x="1026" y="491" width="1" height="1"/><rect x="0" y="491" width="1" height="1"/>
<rect x="1026" y="499" width="1" height="1"/><rect x="0" y="499" width="1" height="1"/>
<rect x="1026" y="429" width="2" height="1"/><rect x="0" y="429" width="1" height="1"/>
<rect x="1026" y="436" width="1" height="1"/><rect x="0" y="436" width="1" height="1"/>
<rect x="1026" y="444" width="1" height="1"/><rect x="0" y="444" width="1" height="1"/>
<rect x="1026" y="452" width="1" height="1"/><rect x="0" y="452" width="1" height="1"/>
<rect x="1026" y="460" width="1" height="1"/><rect x="0" y="460" width="1" height="1"/>
<rect x="1026" y="390" width="2" height="1"/><rect x="0" y="390" width="1" height="1"/>
<rect x="1026" y="397" width="1" height="1"/><rect x="0" y="397" width="1" height="1"/>
<rect x="1026" y="405" width="1" height="1"/><rect x="0" y="405" width="1" height="1"/>
<rect x="1026" y="413" width="1" height="1"/><rect x="0" y="413" width="1" height="1"/>
<rect x="1026" y="421" width="1" height="1"/><rect x="0" y="421" width="1" height="1"/>
<rect x="1026" y="351" width="2" height="1"/><rect x="0" y="351" width="1" height="1"/>
<rect x="1026" y="358" width="1" height="1"/><rect x="0" y="358" width="1" height="1"/>
<rect x="1026" y="366" width="1" height="1"/><rect x="0" y="366" width="1" height="1"/>
<rect x="1026" y="374" width="1" height="1"/><rect x="0" y="374" width="1" height="1"/>
<rect x="1026" y="382" width="1" height="1"/><rect x="0" y="382" width="1" height="1"/>
<rect x="1026" y="313" width="2" height="1"/><rect x="0" y="313" width="1" height="1"/>
<rect x="1026" y="320" width="1" height="1"/><rect x="0" y="320" width="1" height="1"/>
<rect x="1026" y="328" width="1" height="1"/><rect x="0" y="328" width="1" height="1"/>
<rect x="1026" y="336" width="1" height="1"/><rect x="0" y="336" width="1" height="1"/>
<rect x="1026" y="344" width="1" height="1"/><rect x="0" y="344" width="1" height="1"/>
<rect x="1026" y="274" width="2" height="1"/><rect x="0" y="274" width="1" height="1"/>
<rect x="1026" y="281" width="1" height="1"/><rect x="0" y="281" width="1" height="1"/>
<rect x="1026" y="289" width="1" height="1"/><rect x="0" y="289" width="1" height="1"/>
<rect x="1026" y="297" width="1" height="1"/><rect x="0" y="297" width="1" height="1"/>
<rect x="1026" y="305" width="1" height="1"/><rect x="0" y="305" width="1" height="1"/>
<rect x="1026" y="235" width="2" height="1"/><rect x="0" y="235" width="1" height="1"/>
<rect x="1026" y="242" width="1" height="1"/><rect x="0" y="242" width="1" height="1"/>
<rect x="1026" y="250" width="1" height="1"/><rect x="0" y="250" width="1" height="1"/>
<rect x="1026" y="258" width="1" height="1"/><rect x="0" y="258" width="1" height="1"/>
<rect x="1026" y="266" width="1" height="1"/><rect x="0" y="266" width="1" height="1"/>
<rect x="1026" y="196" width="2" height="1"/><rect x="0" y="196" width="1" height="1"/>
<rect x="1026" y="203" width="1" height="1"/><rect x="0" y="203" width="1" height="1"/>
<rect x="1026" y="211" width="1" height="1"/><rect x="0" y="211" width="1" height="1"/>
<rect x="1026" y="219" width="1" height="1"/><rect x="0" y="219" width="1" height="1"/>
<rect x="1026" y="227" width="1" height="1"/><rect x="0" y="227" width="1" height="1"/>
<rect x="1026" y="157" width="2" height="1"/><rect x="0" y="157" width="1" height="1"/>
<rect x="1026" y="164" width="1" height="1"/><rect x="0" y="164" width="1" height="1"/>
<rect x="1026" y="172" width="1" height="1"/><rect x="0" y="172" width="1" height="1"/>
<rect x="1026" y="180" width="1" height="1"/><rect x="0" y="180" width="1" height="1"/>
<rect x="1026" y="188" width="1" height="1"/><rect x="0" y="188" width="1" height="1"/>
<rect x="1026" y="119" width="2" height="1"/><rect x="0" y="119" width="1" height="1"/>
<rect x="1026" y="126" width="1" height="1"/><rect x="0" y="126" width="1" height="1"/>
<rect x="1026" y="134" width="1" height="1"/><rect x="0" y="134" width="1" height="1"/>
<rect x="1026" y="142" width="1" height="1"/><rect x="0" y="142" width="1" height="1"/>
<rect x="1026" y="150" width="1" height="1"/><rect x="0" y="150" width="1" height="1"/>
<rect x="1026" y="80" width="2" height="1"/><rect x="0" y="80" width="1" height="1"/>
<rect x="1026" y="87" width="1" height="1"/><rect x="0" y="87" width="1" height="1"/>
<rect x="1026" y="95" width="1" height="1"/><rect x="0" y="95" width="1" height="1"/>
<rect x="1026" y="103" width="1" height="1"/><rect x="0" y="103" width="1" height="1"/>
<rect x="1026" y="111" width="1" height="1"/><rect x="0" y="111" width="1" height="1"/>
<rect x="1026" y="41" width="2" height="1"/><rect x="0" y="41" width="1" height="1"/>
<rect x="1026" y="48" width="1" height="1"/><rect x="0" y="48" width="1" height="1"/>
<rect x="1026" y="56" width="1" height="1"/><rect x="0" y="56" width="1" height="1"/>
<rect x="1026" y="64" width="1" height="1"/><rect x="0" y="64" width="1" height="1"/>
<rect x="1026" y="72" width="1" height="1"/><rect x="0" y="72" width="1" height="1"/>
<rect x="1026" y="33" width="1" height="1"/><rect x="0" y="33" width="1" height="1"/>
<rect x="10" y="545" width="1" height="4"/>
<rect x="14" y="545" width="1" height="4"/>
<rect x="64" y="545" width="1" height="4"/>
<rect x="114" y="545" width="1" height="4"/>
<rect x="165" y="545" width="1" height="4"/>
<rect x="215" y="545" width="1" height="4"/>
<rect x="269" y="545" width="1" height="4"/>
<rect x="315" y="545" width="1" height="4"/>
<rect x="366" y="545" width="1" height="4"/>
<rect x="420" y="545" width="1" height="4"/>
<rect x="470" y="545" width="1" height="4"/>
<rect x="520" y="545" width="1" height="4"/>
<rect x="570" y="545" width="1" height="4"/>
<rect x="621" y="545" width="1" height="4"/>
<rect x="671" y="545" width="1" height="4"/>
<rect x="721" y="545" width="1" height="4"/>
<rect x="772" y="545" width="1" height="4"/>
<rect x="822" y="545" width="1" height="4"/>
<rect x="872" y="545" width="1" height="4"/>
<rect x="922" y="545" width="1" height="4"/>
<rect x="973" y="545" width="1" height="4"/>
</g>
<g class="t">
<g font-size="13px" fill="#000000" stroke="#000000" stroke-width="0.2">
<text x="1031" y="512" textLength="30.4" lengthAdjust="spacingAndGlyphs">5000</text>
<text x="1031" y="473" textLength="30.4" lengthAdjust="spacingAndGlyphs">6000</text>
<text x="1031" y="434" textLength="30.4" lengthAdjust="spacingAndGlyphs">7000</text>
<text x="1031" y="395" textLength="30.4" lengthAdjust="spacingAndGlyphs">8000</text>
<text x="1031" y="356" textLength="30.4" lengthAdjust="spacingAndGlyphs">9000</text>
<text x="1031" y="318" textLength="38" lengthAdjust="spacingAndGlyphs">10000</text>
<text x="1031" y="279" textLength="38" lengthAdjust="spacingAndGlyphs">11000</text>
<text x="1031" y="240" textLength="38" lengthAdjust="spacingAndGlyphs">12000</text>
<text x="1031" y="201" textLength="38" lengthAdjust="spacingAndGlyphs">13000</text>
<text x="1031" y="162" textLength="38" lengthAdjust="spacingAndGlyphs">14000</text>
<text x="1031" y="124" textLength="38" lengthAdjust="spacingAndGlyphs">15000</text>
<text x="1031" y="85" textLength="38" lengthAdjust="spacingAndGlyphs">16000</text>
<text x="1031" y="46" textLength="38" lengthAdjust="spacingAndGlyphs">17000</text>
</g>
<g font-size="13px" fill="#000000" stroke="#000000" stroke-width="0.2" text-anchor="middle">
<text x="15.5" y="563" textLength="20.4" lengthAdjust="spacingAndGlyphs">Oct</text>
<text x="65.8" y="563" textLength="30.6" lengthAdjust="spacingAndGlyphs">2018</text>
<text x="116.0" y="563" textLength="21.2" lengthAdjust="spacingAndGlyphs">Apr</text>
<text x="166.3" y="563" textLength="13.4" lengthAdjust="spacingAndGlyphs">Jul</text>
<text x="216.5" y="563" textLength="20.4" lengthAdjust="spacingAndGlyphs">Oct</text>
<text x="270.7" y="563" textLength="30.6" lengthAdjust="spacingAndGlyphs">2019</text>
<text x="317.0" y="563" textLength="21.2" lengthAdjust="spacingAndGlyphs">Apr</text>
<text x="367.3" y="563" textLength="13.4" lengthAdjust="spacingAndGlyphs">Jul</text>
<text x="421.4" y="563" textLength="20.4" lengthAdjust="spacingAndGlyphs">Oct</text>
<text x="471.7" y="563" textLength="30.6" lengthAdjust="spacingAndGlyphs">2020</text>
<text x="521.9" y="563" textLength="21.2" lengthAdjust="spacingAndGlyphs">Apr</text>
<text x="572.2" y="563" textLength="13.4" lengthAdjust="spacingAndGlyphs">Jul</text>
<text x="622.4" y="563" textLength="20.4" lengthAdjust="spacingAndGlyphs">Oct</text>
<text x="672.7" y="563" textLength="30.6" lengthAdjust="spacingAndGlyphs">2021</text>
<text x="723.0" y="563" textLength="21.2" lengthAdjust="spacingAndGlyphs">Apr</text>
<text x="773.2" y="563" textLength="13.4" lengthAdjust="spacingAndGlyphs">Jul</text>
<text x="823.5" y="563" textLength="20.4" lengthAdjust="spacingAndGlyphs">Oct</text>
<text x="873.7" y="563" textLength="30.6" lengthAdjust="spacingAndGlyphs">2022</text>
<text x="924.0" y="563" textLength="21.2" lengthAdjust="spacingAndGlyphs">Apr</text>
<text x="974.2" y="563" textLength="13.4" lengthAdjust="spacingAndGlyphs">Jul</text>
</g>
<text x="11" y="21" font-size="16.5px" fill="#000000" stroke="#000000" stroke-width="0.45" textLength="59.6" lengthAdjust="spacingAndGlyphs">Nasdaq</text>
<text x="77.4" y="21" font-size="16.5px" fill="#000000" stroke="#000000" stroke-width="0.45" textLength="30.8" lengthAdjust="spacingAndGlyphs">100</text>
<text x="114.4" y="21" font-size="16.5px" fill="#000000" stroke="#000000" stroke-width="0.45" textLength="44.8" lengthAdjust="spacingAndGlyphs">(NDX</text>
<text x="165.0" y="21" font-size="16.5px" fill="#000000" stroke="#000000" stroke-width="0.45" textLength="61.4" lengthAdjust="spacingAndGlyphs">INDEX)</text>
<text x="233.2" y="21" font-size="16.5px" fill="#000000" stroke="#000000" stroke-width="0.3" textLength="81.6" lengthAdjust="spacingAndGlyphs">11637.79</text>
<text x="320.2" y="21" font-size="16.5px" fill="#ff0000" textLength="65.3" lengthAdjust="spacingAndGlyphs">-223.59</text>
<text x="984.6" y="20.2" font-size="15.6px" fill="#000000" textLength="89" lengthAdjust="spacingAndGlyphs">2022-09-21</text>
<text x="10.3" y="45" font-size="14.5px" fill="#0000dd" textLength="49" lengthAdjust="spacingAndGlyphs">Weekly</text>
<text x="10.3" y="65" font-size="14.5px" fill="#a52a2a" textLength="60.2" lengthAdjust="spacingAndGlyphs">EMA 200</text>
<text x="10.3" y="105" font-size="14.5px" fill="#ffa500" textLength="69" lengthAdjust="spacingAndGlyphs">EMA 1000</text>
<text x="1" y="590" font-size="16px" fill="#0000ff" textLength="210.5" lengthAdjust="spacingAndGlyphs">www.fullertreacymoney.com</text>
<text x="625" y="590" font-size="13px" fill="#999999" textLength="448" lengthAdjust="spacingAndGlyphs">This website is © 2008-2022 Fuller Treacy Money plc. All rights reserved</text>
</g>
</svg>
</body></html>
